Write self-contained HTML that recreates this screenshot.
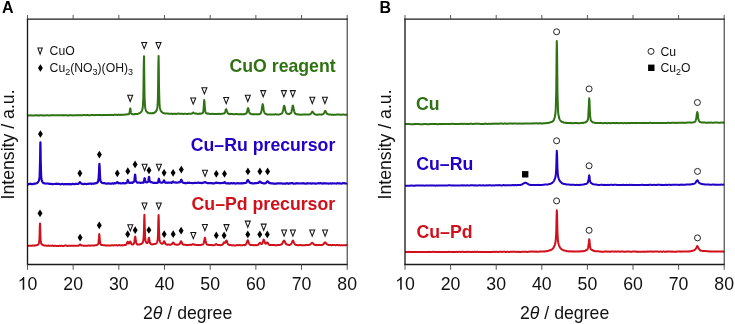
<!DOCTYPE html>
<html><head><meta charset="utf-8">
<style>
html,body{margin:0;padding:0;background:#fff;}
body{width:735px;height:324px;overflow:hidden;}
svg{display:block;will-change:transform;}
text{font-family:"Liberation Sans",sans-serif;}
.tl{font-size:17.7px;text-anchor:middle;fill:#111;}
.tick{stroke:#555;stroke-width:1;}
.tri{fill:#fff;stroke:#151515;stroke-width:1.05;stroke-linejoin:miter;}
.dia{fill:#000;}
.circ{fill:#fff;stroke:#222;stroke-width:1.0;}
.tr{fill:none;stroke-width:2.0;stroke-linejoin:round;}
.lab{font-weight:bold;font-size:17.7px;}
.leg{font-size:12.2px;fill:#111;}
</style></head>
<body>
<svg width="735" height="324" viewBox="0 0 735 324">
<rect width="735" height="324" fill="#fff"/>
<text x="2.0" y="12.6" style="font-weight:bold;font-size:16px;">A</text>
<text x="379.4" y="12.6" style="font-weight:bold;font-size:16px;">B</text>
<path d="M27.5,115.3 L27.7,115.3 L28.0,115.4 L28.2,115.4 L28.4,115.5 L28.6,115.5 L28.9,115.5 L29.1,115.5 L29.3,115.5 L29.6,115.5 L29.8,115.4 L30.0,115.4 L30.2,115.3 L30.5,115.3 L30.7,115.3 L30.9,115.3 L31.2,115.4 L31.4,115.4 L31.6,115.4 L31.8,115.4 L32.1,115.4 L32.3,115.4 L32.5,115.4 L32.8,115.4 L33.0,115.4 L33.2,115.4 L33.4,115.4 L33.7,115.4 L33.9,115.5 L34.1,115.5 L34.4,115.5 L34.6,115.5 L34.8,115.4 L35.0,115.3 L35.3,115.3 L35.5,115.2 L35.7,115.2 L35.9,115.2 L36.2,115.2 L36.4,115.2 L36.6,115.2 L36.9,115.3 L37.1,115.4 L37.3,115.4 L37.5,115.5 L37.8,115.4 L38.0,115.4 L38.2,115.4 L38.5,115.3 L38.7,115.4 L38.9,115.4 L39.1,115.4 L39.4,115.4 L39.6,115.4 L39.8,115.4 L40.1,115.3 L40.3,115.2 L40.5,115.2 L40.7,115.2 L41.0,115.3 L41.2,115.3 L41.4,115.3 L41.7,115.4 L41.9,115.4 L42.1,115.4 L42.3,115.4 L42.6,115.4 L42.8,115.4 L43.0,115.3 L43.3,115.3 L43.5,115.3 L43.7,115.3 L43.9,115.4 L44.2,115.4 L44.4,115.5 L44.6,115.5 L44.9,115.5 L45.1,115.5 L45.3,115.5 L45.5,115.5 L45.8,115.4 L46.0,115.3 L46.2,115.3 L46.5,115.2 L46.7,115.2 L46.9,115.2 L47.1,115.2 L47.4,115.2 L47.6,115.2 L47.8,115.2 L48.1,115.3 L48.3,115.3 L48.5,115.4 L48.7,115.4 L49.0,115.4 L49.2,115.4 L49.4,115.5 L49.7,115.5 L49.9,115.4 L50.1,115.4 L50.3,115.3 L50.6,115.3 L50.8,115.3 L51.0,115.3 L51.2,115.2 L51.5,115.2 L51.7,115.2 L51.9,115.3 L52.2,115.3 L52.4,115.3 L52.6,115.3 L52.8,115.2 L53.1,115.2 L53.3,115.2 L53.5,115.2 L53.8,115.2 L54.0,115.2 L54.2,115.2 L54.4,115.2 L54.7,115.2 L54.9,115.2 L55.1,115.3 L55.4,115.3 L55.6,115.3 L55.8,115.3 L56.0,115.3 L56.3,115.3 L56.5,115.3 L56.7,115.3 L57.0,115.3 L57.2,115.2 L57.4,115.2 L57.6,115.2 L57.9,115.2 L58.1,115.2 L58.3,115.2 L58.6,115.2 L58.8,115.2 L59.0,115.2 L59.2,115.2 L59.5,115.2 L59.7,115.2 L59.9,115.2 L60.2,115.3 L60.4,115.3 L60.6,115.3 L60.8,115.3 L61.1,115.2 L61.3,115.2 L61.5,115.2 L61.8,115.2 L62.0,115.2 L62.2,115.1 L62.4,115.1 L62.7,115.2 L62.9,115.2 L63.1,115.3 L63.4,115.4 L63.6,115.4 L63.8,115.4 L64.0,115.3 L64.3,115.3 L64.5,115.3 L64.7,115.3 L65.0,115.3 L65.2,115.3 L65.4,115.3 L65.6,115.3 L65.9,115.3 L66.1,115.2 L66.3,115.2 L66.5,115.2 L66.8,115.2 L67.0,115.3 L67.2,115.4 L67.5,115.4 L67.7,115.4 L67.9,115.4 L68.1,115.4 L68.4,115.4 L68.6,115.4 L68.8,115.3 L69.1,115.2 L69.3,115.2 L69.5,115.1 L69.7,115.1 L70.0,115.2 L70.2,115.2 L70.4,115.2 L70.7,115.2 L70.9,115.2 L71.1,115.3 L71.3,115.3 L71.6,115.3 L71.8,115.3 L72.0,115.3 L72.3,115.3 L72.5,115.3 L72.7,115.3 L72.9,115.4 L73.2,115.4 L73.4,115.4 L73.6,115.4 L73.9,115.3 L74.1,115.3 L74.3,115.2 L74.5,115.2 L74.8,115.2 L75.0,115.3 L75.2,115.3 L75.5,115.3 L75.7,115.3 L75.9,115.3 L76.1,115.3 L76.4,115.3 L76.6,115.3 L76.8,115.2 L77.1,115.2 L77.3,115.2 L77.5,115.1 L77.7,115.2 L78.0,115.2 L78.2,115.2 L78.4,115.2 L78.7,115.3 L78.9,115.3 L79.1,115.3 L79.3,115.3 L79.6,115.3 L79.8,115.3 L80.0,115.3 L80.3,115.3 L80.5,115.3 L80.7,115.3 L80.9,115.3 L81.2,115.2 L81.4,115.2 L81.6,115.2 L81.8,115.2 L82.1,115.2 L82.3,115.2 L82.5,115.2 L82.8,115.2 L83.0,115.1 L83.2,115.1 L83.4,115.0 L83.7,115.0 L83.9,115.0 L84.1,115.1 L84.4,115.1 L84.6,115.1 L84.8,115.1 L85.0,115.2 L85.3,115.2 L85.5,115.3 L85.7,115.2 L86.0,115.2 L86.2,115.2 L86.4,115.1 L86.6,115.1 L86.9,115.1 L87.1,115.1 L87.3,115.1 L87.6,115.0 L87.8,115.1 L88.0,115.1 L88.2,115.1 L88.5,115.2 L88.7,115.2 L88.9,115.2 L89.2,115.2 L89.4,115.2 L89.6,115.2 L89.8,115.2 L90.1,115.2 L90.3,115.2 L90.5,115.2 L90.8,115.2 L91.0,115.1 L91.2,115.1 L91.4,115.1 L91.7,115.1 L91.9,115.1 L92.1,115.1 L92.4,115.1 L92.6,115.1 L92.8,115.1 L93.0,115.1 L93.3,115.1 L93.5,115.1 L93.7,115.1 L94.0,115.1 L94.2,115.2 L94.4,115.2 L94.6,115.2 L94.9,115.2 L95.1,115.1 L95.3,115.1 L95.6,115.1 L95.8,115.1 L96.0,115.1 L96.2,115.1 L96.5,115.0 L96.7,115.0 L96.9,115.0 L97.1,115.1 L97.4,115.1 L97.6,115.0 L97.8,115.0 L98.1,115.0 L98.3,114.9 L98.5,114.9 L98.7,114.9 L99.0,114.9 L99.2,114.9 L99.4,114.9 L99.7,114.9 L99.9,115.0 L100.1,115.0 L100.3,115.1 L100.6,115.1 L100.8,115.1 L101.0,115.2 L101.3,115.2 L101.5,115.2 L101.7,115.2 L101.9,115.1 L102.2,115.1 L102.4,115.1 L102.6,115.0 L102.9,115.0 L103.1,115.0 L103.3,115.0 L103.5,115.0 L103.8,114.9 L104.0,114.9 L104.2,114.9 L104.5,114.9 L104.7,114.9 L104.9,114.9 L105.1,114.9 L105.4,115.0 L105.6,115.0 L105.8,115.0 L106.1,115.1 L106.3,115.1 L106.5,115.1 L106.7,115.1 L107.0,115.1 L107.2,115.1 L107.4,115.1 L107.7,115.0 L107.9,115.0 L108.1,115.0 L108.3,115.0 L108.6,115.0 L108.8,115.0 L109.0,115.0 L109.3,115.0 L109.5,115.1 L109.7,115.0 L109.9,114.9 L110.2,114.9 L110.4,114.8 L110.6,114.8 L110.9,114.8 L111.1,114.9 L111.3,114.9 L111.5,114.9 L111.8,114.9 L112.0,115.0 L112.2,115.0 L112.4,115.0 L112.7,115.0 L112.9,115.0 L113.1,114.9 L113.4,114.9 L113.6,114.9 L113.8,114.9 L114.0,114.9 L114.3,114.8 L114.5,114.8 L114.7,114.8 L115.0,114.8 L115.2,114.8 L115.4,114.8 L115.6,114.8 L115.9,114.8 L116.1,114.8 L116.3,114.8 L116.6,114.8 L116.8,114.9 L117.0,114.9 L117.2,114.9 L117.5,115.0 L117.7,114.9 L117.9,114.8 L118.2,114.7 L118.4,114.6 L118.6,114.6 L118.8,114.7 L119.1,114.7 L119.3,114.8 L119.5,114.9 L119.8,114.9 L120.0,114.9 L120.2,114.9 L120.4,114.8 L120.7,114.8 L120.9,114.8 L121.1,114.9 L121.4,114.9 L121.6,114.8 L121.8,114.8 L122.0,114.8 L122.3,114.8 L122.5,114.8 L122.7,114.8 L123.0,114.8 L123.2,114.8 L123.4,114.8 L123.6,114.8 L123.9,114.7 L124.1,114.7 L124.3,114.7 L124.6,114.6 L124.8,114.6 L125.0,114.6 L125.2,114.6 L125.5,114.6 L125.7,114.6 L125.9,114.6 L126.2,114.5 L126.4,114.5 L126.6,114.5 L126.8,114.4 L127.1,114.4 L127.3,114.3 L127.5,114.3 L127.7,114.3 L128.0,114.3 L128.2,114.3 L128.4,114.3 L128.7,114.2 L128.9,114.1 L129.1,113.8 L129.3,113.2 L129.6,112.3 L129.8,110.9 L130.0,109.2 L130.3,108.4 L130.5,109.1 L130.7,110.8 L130.9,112.2 L131.2,113.1 L131.4,113.6 L131.6,113.9 L131.9,114.0 L132.1,114.1 L132.3,114.1 L132.5,114.2 L132.8,114.2 L133.0,114.2 L133.2,114.2 L133.5,114.2 L133.7,114.2 L133.9,114.2 L134.1,114.2 L134.4,114.2 L134.6,114.1 L134.8,114.1 L135.1,114.2 L135.3,114.1 L135.5,114.1 L135.7,114.1 L136.0,114.1 L136.2,114.1 L136.4,114.1 L136.7,114.1 L136.9,114.0 L137.1,114.0 L137.3,114.0 L137.6,113.9 L137.8,113.8 L138.0,113.8 L138.3,113.7 L138.5,113.6 L138.7,113.5 L138.9,113.4 L139.2,113.3 L139.4,113.2 L139.6,113.1 L139.9,113.0 L140.1,112.9 L140.3,112.7 L140.5,112.6 L140.8,112.3 L141.0,112.1 L141.2,111.8 L141.5,111.5 L141.7,111.1 L141.9,110.6 L142.1,110.0 L142.4,109.3 L142.6,108.3 L142.8,106.7 L143.0,104.0 L143.3,98.3 L143.5,86.4 L143.7,68.1 L144.0,56.2 L144.2,68.1 L144.4,86.4 L144.6,98.2 L144.9,104.0 L145.1,106.7 L145.3,108.2 L145.6,109.3 L145.8,110.1 L146.0,110.7 L146.2,111.1 L146.5,111.5 L146.7,111.8 L146.9,112.0 L147.2,112.2 L147.4,112.4 L147.6,112.5 L147.8,112.7 L148.1,112.9 L148.3,113.0 L148.5,113.1 L148.8,113.2 L149.0,113.2 L149.2,113.3 L149.4,113.3 L149.7,113.3 L149.9,113.3 L150.1,113.3 L150.4,113.2 L150.6,113.2 L150.8,113.2 L151.0,113.2 L151.3,113.2 L151.5,113.2 L151.7,113.2 L152.0,113.2 L152.2,113.2 L152.4,113.1 L152.6,113.1 L152.9,113.2 L153.1,113.2 L153.3,113.2 L153.6,113.2 L153.8,113.0 L154.0,112.9 L154.2,112.8 L154.5,112.6 L154.7,112.5 L154.9,112.4 L155.2,112.2 L155.4,112.0 L155.6,111.7 L155.8,111.5 L156.1,111.2 L156.3,110.9 L156.5,110.4 L156.8,109.8 L157.0,109.0 L157.2,107.9 L157.4,106.4 L157.7,103.6 L157.9,97.9 L158.1,86.1 L158.3,67.8 L158.6,55.9 L158.8,67.8 L159.0,86.0 L159.3,97.8 L159.5,103.6 L159.7,106.3 L159.9,107.9 L160.2,109.0 L160.4,109.8 L160.6,110.4 L160.9,110.8 L161.1,111.2 L161.3,111.5 L161.5,111.8 L161.8,112.0 L162.0,112.2 L162.2,112.4 L162.5,112.5 L162.7,112.7 L162.9,112.8 L163.1,113.0 L163.4,113.1 L163.6,113.2 L163.8,113.2 L164.1,113.3 L164.3,113.3 L164.5,113.3 L164.7,113.4 L165.0,113.4 L165.2,113.4 L165.4,113.4 L165.7,113.5 L165.9,113.5 L166.1,113.5 L166.3,113.6 L166.6,113.6 L166.8,113.6 L167.0,113.5 L167.3,113.5 L167.5,113.5 L167.7,113.5 L167.9,113.6 L168.2,113.6 L168.4,113.7 L168.6,113.7 L168.9,113.7 L169.1,113.7 L169.3,113.7 L169.5,113.7 L169.8,113.7 L170.0,113.7 L170.2,113.7 L170.5,113.7 L170.7,113.7 L170.9,113.7 L171.1,113.7 L171.4,113.6 L171.6,113.7 L171.8,113.7 L172.1,113.8 L172.3,113.9 L172.5,113.9 L172.7,113.9 L173.0,113.9 L173.2,113.9 L173.4,113.8 L173.6,113.8 L173.9,113.8 L174.1,113.7 L174.3,113.7 L174.6,113.7 L174.8,113.7 L175.0,113.8 L175.2,113.8 L175.5,113.8 L175.7,113.9 L175.9,113.9 L176.2,113.9 L176.4,113.9 L176.6,113.9 L176.8,113.8 L177.1,113.8 L177.3,113.7 L177.5,113.6 L177.8,113.6 L178.0,113.6 L178.2,113.6 L178.4,113.6 L178.7,113.6 L178.9,113.7 L179.1,113.7 L179.4,113.7 L179.6,113.7 L179.8,113.7 L180.0,113.8 L180.3,113.8 L180.5,113.9 L180.7,113.8 L181.0,113.8 L181.2,113.7 L181.4,113.7 L181.6,113.7 L181.9,113.8 L182.1,113.8 L182.3,113.8 L182.6,113.9 L182.8,113.9 L183.0,113.9 L183.2,113.9 L183.5,113.9 L183.7,113.9 L183.9,113.8 L184.2,113.8 L184.4,113.8 L184.6,113.8 L184.8,113.8 L185.1,113.7 L185.3,113.7 L185.5,113.7 L185.8,113.8 L186.0,113.8 L186.2,113.9 L186.4,113.9 L186.7,113.9 L186.9,113.9 L187.1,113.9 L187.3,113.9 L187.6,113.9 L187.8,113.9 L188.0,113.8 L188.3,113.8 L188.5,113.8 L188.7,113.7 L188.9,113.7 L189.2,113.7 L189.4,113.7 L189.6,113.7 L189.9,113.7 L190.1,113.7 L190.3,113.8 L190.5,113.8 L190.8,113.7 L191.0,113.7 L191.2,113.7 L191.5,113.6 L191.7,113.6 L191.9,113.5 L192.1,113.4 L192.4,113.3 L192.6,113.1 L192.8,112.8 L193.1,112.6 L193.3,112.5 L193.5,112.6 L193.7,112.8 L194.0,113.0 L194.2,113.3 L194.4,113.4 L194.7,113.5 L194.9,113.6 L195.1,113.6 L195.3,113.5 L195.6,113.5 L195.8,113.6 L196.0,113.6 L196.3,113.6 L196.5,113.6 L196.7,113.7 L196.9,113.8 L197.2,113.8 L197.4,113.9 L197.6,113.9 L197.9,113.9 L198.1,113.9 L198.3,113.9 L198.5,113.8 L198.8,113.8 L199.0,113.7 L199.2,113.7 L199.5,113.6 L199.7,113.6 L199.9,113.7 L200.1,113.7 L200.4,113.7 L200.6,113.7 L200.8,113.7 L201.1,113.6 L201.3,113.5 L201.5,113.4 L201.7,113.4 L202.0,113.4 L202.2,113.3 L202.4,113.2 L202.6,113.0 L202.9,112.7 L203.1,112.0 L203.3,110.9 L203.6,108.8 L203.8,105.6 L204.0,102.0 L204.2,100.1 L204.5,101.9 L204.7,105.5 L204.9,108.7 L205.2,110.7 L205.4,111.8 L205.6,112.4 L205.8,112.8 L206.1,113.0 L206.3,113.1 L206.5,113.2 L206.8,113.3 L207.0,113.5 L207.2,113.6 L207.4,113.7 L207.7,113.7 L207.9,113.7 L208.1,113.6 L208.4,113.6 L208.6,113.6 L208.8,113.7 L209.0,113.7 L209.3,113.8 L209.5,113.9 L209.7,113.9 L210.0,113.9 L210.2,114.0 L210.4,114.0 L210.6,114.0 L210.9,113.9 L211.1,113.9 L211.3,113.9 L211.6,113.9 L211.8,113.8 L212.0,113.8 L212.2,113.8 L212.5,113.7 L212.7,113.8 L212.9,113.8 L213.2,113.9 L213.4,114.0 L213.6,114.0 L213.8,114.0 L214.1,114.0 L214.3,114.0 L214.5,114.1 L214.8,114.0 L215.0,114.0 L215.2,114.0 L215.4,114.0 L215.7,114.0 L215.9,113.9 L216.1,113.9 L216.4,113.9 L216.6,113.9 L216.8,113.9 L217.0,113.9 L217.3,113.9 L217.5,113.9 L217.7,113.9 L217.9,113.9 L218.2,113.9 L218.4,113.9 L218.6,113.9 L218.9,113.8 L219.1,113.8 L219.3,113.8 L219.5,113.8 L219.8,113.9 L220.0,113.9 L220.2,113.9 L220.5,114.0 L220.7,113.9 L220.9,113.9 L221.1,113.9 L221.4,113.9 L221.6,113.8 L221.8,113.8 L222.1,113.8 L222.3,113.7 L222.5,113.7 L222.7,113.7 L223.0,113.6 L223.2,113.6 L223.4,113.6 L223.7,113.5 L223.9,113.5 L224.1,113.4 L224.3,113.3 L224.6,113.1 L224.8,112.7 L225.0,112.2 L225.3,111.6 L225.5,110.8 L225.7,110.0 L225.9,109.4 L226.2,109.1 L226.4,109.4 L226.6,110.1 L226.9,110.8 L227.1,111.6 L227.3,112.2 L227.5,112.7 L227.8,113.1 L228.0,113.4 L228.2,113.6 L228.5,113.7 L228.7,113.8 L228.9,113.9 L229.1,114.0 L229.4,114.0 L229.6,114.0 L229.8,114.0 L230.1,113.9 L230.3,113.9 L230.5,113.8 L230.7,113.8 L231.0,113.9 L231.2,113.9 L231.4,113.9 L231.7,113.9 L231.9,114.0 L232.1,114.0 L232.3,114.0 L232.6,114.0 L232.8,114.1 L233.0,114.1 L233.2,114.2 L233.5,114.3 L233.7,114.3 L233.9,114.2 L234.2,114.2 L234.4,114.2 L234.6,114.2 L234.8,114.2 L235.1,114.1 L235.3,114.1 L235.5,114.1 L235.8,114.1 L236.0,114.1 L236.2,114.1 L236.4,114.0 L236.7,114.1 L236.9,114.1 L237.1,114.2 L237.4,114.2 L237.6,114.2 L237.8,114.2 L238.0,114.3 L238.3,114.3 L238.5,114.3 L238.7,114.3 L239.0,114.3 L239.2,114.3 L239.4,114.3 L239.6,114.3 L239.9,114.3 L240.1,114.2 L240.3,114.2 L240.6,114.1 L240.8,114.2 L241.0,114.2 L241.2,114.3 L241.5,114.3 L241.7,114.3 L241.9,114.3 L242.2,114.3 L242.4,114.2 L242.6,114.2 L242.8,114.2 L243.1,114.2 L243.3,114.1 L243.5,114.1 L243.8,114.2 L244.0,114.2 L244.2,114.2 L244.4,114.2 L244.7,114.2 L244.9,114.1 L245.1,114.0 L245.4,113.8 L245.6,113.7 L245.8,113.7 L246.0,113.6 L246.3,113.4 L246.5,113.1 L246.7,112.7 L247.0,112.0 L247.2,111.2 L247.4,110.2 L247.6,109.2 L247.9,108.3 L248.1,108.0 L248.3,108.4 L248.5,109.2 L248.8,110.3 L249.0,111.3 L249.2,112.1 L249.5,112.8 L249.7,113.2 L249.9,113.4 L250.1,113.6 L250.4,113.7 L250.6,113.8 L250.8,113.9 L251.1,114.0 L251.3,114.1 L251.5,114.2 L251.7,114.2 L252.0,114.2 L252.2,114.2 L252.4,114.2 L252.7,114.2 L252.9,114.3 L253.1,114.3 L253.3,114.3 L253.6,114.4 L253.8,114.3 L254.0,114.3 L254.3,114.3 L254.5,114.2 L254.7,114.2 L254.9,114.2 L255.2,114.2 L255.4,114.2 L255.6,114.2 L255.9,114.2 L256.1,114.2 L256.3,114.2 L256.5,114.2 L256.8,114.2 L257.0,114.3 L257.2,114.3 L257.5,114.4 L257.7,114.3 L257.9,114.3 L258.1,114.2 L258.4,114.2 L258.6,114.2 L258.8,114.2 L259.1,114.2 L259.3,114.1 L259.5,114.1 L259.7,114.0 L260.0,113.9 L260.2,113.8 L260.4,113.6 L260.7,113.4 L260.9,112.9 L261.1,112.4 L261.3,111.6 L261.6,110.5 L261.8,109.2 L262.0,107.7 L262.3,106.1 L262.5,104.7 L262.7,104.1 L262.9,104.6 L263.2,106.0 L263.4,107.6 L263.6,109.2 L263.8,110.5 L264.1,111.5 L264.3,112.3 L264.5,112.8 L264.8,113.1 L265.0,113.4 L265.2,113.6 L265.4,113.7 L265.7,113.8 L265.9,114.0 L266.1,114.1 L266.4,114.2 L266.6,114.3 L266.8,114.3 L267.0,114.4 L267.3,114.4 L267.5,114.4 L267.7,114.4 L268.0,114.4 L268.2,114.5 L268.4,114.5 L268.6,114.5 L268.9,114.4 L269.1,114.4 L269.3,114.4 L269.6,114.4 L269.8,114.4 L270.0,114.4 L270.2,114.5 L270.5,114.5 L270.7,114.5 L270.9,114.5 L271.2,114.5 L271.4,114.6 L271.6,114.6 L271.8,114.5 L272.1,114.5 L272.3,114.5 L272.5,114.4 L272.8,114.5 L273.0,114.5 L273.2,114.5 L273.4,114.5 L273.7,114.5 L273.9,114.5 L274.1,114.4 L274.4,114.4 L274.6,114.4 L274.8,114.4 L275.0,114.4 L275.3,114.3 L275.5,114.3 L275.7,114.3 L276.0,114.4 L276.2,114.4 L276.4,114.4 L276.6,114.4 L276.9,114.5 L277.1,114.5 L277.3,114.5 L277.6,114.6 L277.8,114.5 L278.0,114.5 L278.2,114.4 L278.5,114.4 L278.7,114.4 L278.9,114.4 L279.1,114.4 L279.4,114.4 L279.6,114.4 L279.8,114.3 L280.1,114.3 L280.3,114.2 L280.5,114.1 L280.7,114.0 L281.0,113.9 L281.2,113.8 L281.4,113.6 L281.7,113.5 L281.9,113.3 L282.1,113.0 L282.3,112.6 L282.6,112.0 L282.8,111.3 L283.0,110.4 L283.3,109.3 L283.5,108.2 L283.7,107.1 L283.9,106.2 L284.2,105.8 L284.4,106.0 L284.6,106.8 L284.9,108.0 L285.1,109.1 L285.3,110.2 L285.5,111.2 L285.8,111.9 L286.0,112.4 L286.2,112.8 L286.5,113.1 L286.7,113.3 L286.9,113.5 L287.1,113.6 L287.4,113.7 L287.6,113.8 L287.8,113.9 L288.1,114.0 L288.3,114.1 L288.5,114.1 L288.7,114.1 L289.0,114.0 L289.2,113.9 L289.4,113.8 L289.7,113.7 L289.9,113.7 L290.1,113.6 L290.3,113.5 L290.6,113.4 L290.8,113.1 L291.0,112.8 L291.3,112.4 L291.5,111.7 L291.7,110.7 L291.9,109.6 L292.2,108.2 L292.4,106.9 L292.6,105.9 L292.9,105.5 L293.1,105.9 L293.3,106.8 L293.5,108.1 L293.8,109.4 L294.0,110.5 L294.2,111.5 L294.4,112.2 L294.7,112.8 L294.9,113.2 L295.1,113.4 L295.4,113.7 L295.6,113.8 L295.8,114.0 L296.0,114.1 L296.3,114.2 L296.5,114.3 L296.7,114.3 L297.0,114.3 L297.2,114.3 L297.4,114.3 L297.6,114.3 L297.9,114.4 L298.1,114.5 L298.3,114.6 L298.6,114.6 L298.8,114.6 L299.0,114.6 L299.2,114.5 L299.5,114.5 L299.7,114.5 L299.9,114.6 L300.2,114.7 L300.4,114.7 L300.6,114.7 L300.8,114.7 L301.1,114.7 L301.3,114.7 L301.5,114.7 L301.8,114.7 L302.0,114.6 L302.2,114.6 L302.4,114.5 L302.7,114.5 L302.9,114.5 L303.1,114.5 L303.4,114.5 L303.6,114.5 L303.8,114.6 L304.0,114.6 L304.3,114.6 L304.5,114.6 L304.7,114.6 L305.0,114.6 L305.2,114.5 L305.4,114.5 L305.6,114.5 L305.9,114.5 L306.1,114.6 L306.3,114.6 L306.6,114.6 L306.8,114.6 L307.0,114.5 L307.2,114.5 L307.5,114.4 L307.7,114.4 L307.9,114.4 L308.2,114.4 L308.4,114.4 L308.6,114.4 L308.8,114.5 L309.1,114.5 L309.3,114.6 L309.5,114.6 L309.7,114.5 L310.0,114.4 L310.2,114.2 L310.4,114.1 L310.7,113.9 L310.9,113.7 L311.1,113.5 L311.3,113.2 L311.6,112.8 L311.8,112.4 L312.0,112.0 L312.3,111.7 L312.5,111.6 L312.7,111.7 L312.9,112.0 L313.2,112.4 L313.4,112.7 L313.6,113.1 L313.9,113.4 L314.1,113.6 L314.3,113.8 L314.5,114.0 L314.8,114.2 L315.0,114.3 L315.2,114.4 L315.5,114.6 L315.7,114.6 L315.9,114.6 L316.1,114.7 L316.4,114.7 L316.6,114.7 L316.8,114.7 L317.1,114.7 L317.3,114.7 L317.5,114.7 L317.7,114.7 L318.0,114.6 L318.2,114.5 L318.4,114.5 L318.7,114.4 L318.9,114.5 L319.1,114.5 L319.3,114.5 L319.6,114.5 L319.8,114.5 L320.0,114.5 L320.3,114.6 L320.5,114.6 L320.7,114.6 L320.9,114.6 L321.2,114.6 L321.4,114.7 L321.6,114.6 L321.9,114.6 L322.1,114.5 L322.3,114.4 L322.5,114.3 L322.8,114.3 L323.0,114.2 L323.2,114.0 L323.5,113.9 L323.7,113.6 L323.9,113.3 L324.1,112.9 L324.4,112.4 L324.6,111.9 L324.8,111.5 L325.0,111.1 L325.3,110.9 L325.5,111.0 L325.7,111.4 L326.0,111.9 L326.2,112.4 L326.4,112.8 L326.6,113.2 L326.9,113.5 L327.1,113.8 L327.3,113.9 L327.6,114.1 L327.8,114.2 L328.0,114.2 L328.2,114.3 L328.5,114.3 L328.7,114.4 L328.9,114.4 L329.2,114.4 L329.4,114.4 L329.6,114.4 L329.8,114.4 L330.1,114.5 L330.3,114.5 L330.5,114.5 L330.8,114.6 L331.0,114.7 L331.2,114.7 L331.4,114.8 L331.7,114.8 L331.9,114.7 L332.1,114.7 L332.4,114.7 L332.6,114.6 L332.8,114.7 L333.0,114.7 L333.3,114.7 L333.5,114.7 L333.7,114.7 L334.0,114.7 L334.2,114.7 L334.4,114.7 L334.6,114.7 L334.9,114.8 L335.1,114.8 L335.3,114.8 L335.6,114.8 L335.8,114.8 L336.0,114.7 L336.2,114.7 L336.5,114.6 L336.7,114.6 L336.9,114.6 L337.2,114.6 L337.4,114.6 L337.6,114.6 L337.8,114.6 L338.1,114.6 L338.3,114.6 L338.5,114.6 L338.8,114.6 L339.0,114.6 L339.2,114.6 L339.4,114.6 L339.7,114.6 L339.9,114.7 L340.1,114.7 L340.3,114.8 L340.6,114.8 L340.8,114.8 L341.0,114.8 L341.3,114.8 L341.5,114.8 L341.7,114.8 L341.9,114.7 L342.2,114.7 L342.4,114.6 L342.6,114.6 L342.9,114.6 L343.1,114.6 L343.3,114.6 L343.5,114.6 L343.8,114.6 L344.0,114.7 L344.2,114.7 L344.5,114.7 L344.7,114.7 L344.9,114.7 L345.1,114.7 L345.4,114.7 L345.6,114.7 L345.8,114.7 L346.1,114.7 L346.3,114.7 L346.5,114.7 L346.7,114.7 L347.0,114.7 L347.2,114.6" class="tr" stroke="#2f7212"/>
<path d="M27.5,184.4 L27.7,184.4 L28.0,184.4 L28.2,184.4 L28.4,184.4 L28.6,184.3 L28.9,184.1 L29.1,184.0 L29.3,183.9 L29.6,183.8 L29.8,183.8 L30.0,183.8 L30.2,183.8 L30.5,183.7 L30.7,183.8 L30.9,183.9 L31.2,184.0 L31.4,184.1 L31.6,184.2 L31.8,184.1 L32.1,184.1 L32.3,184.1 L32.5,184.1 L32.8,184.0 L33.0,184.0 L33.2,184.0 L33.4,184.0 L33.7,183.9 L33.9,183.8 L34.1,183.7 L34.4,183.6 L34.6,183.6 L34.8,183.6 L35.0,183.6 L35.3,183.6 L35.5,183.6 L35.7,183.5 L35.9,183.5 L36.2,183.4 L36.4,183.3 L36.6,183.2 L36.9,183.1 L37.1,183.0 L37.3,182.8 L37.5,182.7 L37.8,182.4 L38.0,182.1 L38.2,181.7 L38.5,181.3 L38.7,180.9 L38.9,180.4 L39.1,179.7 L39.4,178.6 L39.6,176.4 L39.8,171.2 L40.1,160.2 L40.3,145.4 L40.4,142.4 L40.5,145.6 L40.7,160.5 L41.0,171.5 L41.2,176.6 L41.4,178.8 L41.7,180.0 L41.9,180.7 L42.1,181.3 L42.3,181.8 L42.6,182.2 L42.8,182.5 L43.0,182.7 L43.3,182.9 L43.5,183.1 L43.7,183.1 L43.9,183.2 L44.2,183.3 L44.4,183.3 L44.6,183.3 L44.9,183.4 L45.1,183.4 L45.3,183.5 L45.5,183.5 L45.8,183.5 L46.0,183.5 L46.2,183.5 L46.5,183.6 L46.7,183.5 L46.9,183.5 L47.1,183.5 L47.4,183.5 L47.6,183.5 L47.8,183.5 L48.1,183.5 L48.3,183.6 L48.5,183.6 L48.7,183.6 L49.0,183.7 L49.2,183.8 L49.4,183.9 L49.7,183.9 L49.9,183.9 L50.1,183.9 L50.3,183.8 L50.6,183.8 L50.8,183.9 L51.0,183.9 L51.2,183.9 L51.5,183.9 L51.7,184.0 L51.9,184.0 L52.2,184.1 L52.4,184.2 L52.6,184.2 L52.8,184.2 L53.1,184.1 L53.3,184.1 L53.5,184.0 L53.8,184.0 L54.0,184.0 L54.2,184.0 L54.4,184.0 L54.7,184.0 L54.9,184.0 L55.1,183.9 L55.4,183.9 L55.6,183.8 L55.8,183.8 L56.0,183.8 L56.3,183.7 L56.5,183.7 L56.7,183.8 L57.0,183.8 L57.2,183.9 L57.4,183.9 L57.6,183.9 L57.9,183.9 L58.1,183.8 L58.3,183.8 L58.6,183.8 L58.8,183.9 L59.0,183.9 L59.2,184.0 L59.5,184.0 L59.7,184.1 L59.9,184.2 L60.2,184.2 L60.4,184.3 L60.6,184.3 L60.8,184.3 L61.1,184.2 L61.3,184.2 L61.5,184.1 L61.8,184.1 L62.0,184.0 L62.2,183.9 L62.4,183.8 L62.7,183.9 L62.9,184.0 L63.1,184.1 L63.4,184.2 L63.6,184.3 L63.8,184.3 L64.0,184.2 L64.3,184.2 L64.5,184.2 L64.7,184.2 L65.0,184.2 L65.2,184.2 L65.4,184.2 L65.6,184.2 L65.9,184.2 L66.1,184.2 L66.3,184.2 L66.5,184.3 L66.8,184.2 L67.0,184.2 L67.2,184.2 L67.5,184.2 L67.7,184.2 L67.9,184.2 L68.1,184.2 L68.4,184.2 L68.6,184.2 L68.8,184.1 L69.1,184.0 L69.3,184.0 L69.5,183.9 L69.7,184.0 L70.0,184.1 L70.2,184.2 L70.4,184.3 L70.7,184.3 L70.9,184.3 L71.1,184.3 L71.3,184.3 L71.6,184.2 L71.8,184.1 L72.0,184.0 L72.3,183.9 L72.5,183.8 L72.7,183.8 L72.9,183.9 L73.2,184.0 L73.4,184.1 L73.6,184.1 L73.9,184.1 L74.1,184.1 L74.3,184.1 L74.5,184.1 L74.8,184.0 L75.0,184.0 L75.2,183.9 L75.5,183.9 L75.7,183.9 L75.9,183.9 L76.1,183.9 L76.4,183.9 L76.6,183.9 L76.8,183.9 L77.1,183.9 L77.3,183.8 L77.5,183.8 L77.7,183.8 L78.0,183.9 L78.2,183.9 L78.4,183.8 L78.7,183.7 L78.9,183.4 L79.1,183.1 L79.3,182.7 L79.6,182.3 L79.8,182.2 L79.9,182.1 L80.0,182.2 L80.3,182.5 L80.5,182.9 L80.7,183.1 L80.9,183.3 L81.2,183.5 L81.4,183.5 L81.6,183.6 L81.8,183.7 L82.1,183.9 L82.3,184.0 L82.5,184.0 L82.8,184.0 L83.0,184.1 L83.2,184.1 L83.4,184.1 L83.7,184.0 L83.9,184.0 L84.1,183.9 L84.4,183.8 L84.6,183.8 L84.8,183.8 L85.0,183.8 L85.3,183.9 L85.5,183.9 L85.7,183.9 L86.0,184.0 L86.2,184.0 L86.4,184.1 L86.6,184.1 L86.9,184.0 L87.1,184.0 L87.3,184.0 L87.6,183.9 L87.8,183.9 L88.0,183.9 L88.2,183.8 L88.5,183.8 L88.7,183.7 L88.9,183.7 L89.2,183.6 L89.4,183.6 L89.6,183.6 L89.8,183.6 L90.1,183.6 L90.3,183.6 L90.5,183.6 L90.8,183.7 L91.0,183.7 L91.2,183.8 L91.4,183.8 L91.7,183.8 L91.9,183.7 L92.1,183.6 L92.4,183.5 L92.6,183.5 L92.8,183.6 L93.0,183.6 L93.3,183.7 L93.5,183.8 L93.7,183.7 L94.0,183.6 L94.2,183.5 L94.4,183.4 L94.6,183.3 L94.9,183.4 L95.1,183.5 L95.3,183.5 L95.6,183.5 L95.8,183.4 L96.0,183.2 L96.2,183.0 L96.5,182.9 L96.7,182.8 L96.9,182.8 L97.1,182.7 L97.4,182.6 L97.6,182.4 L97.8,182.0 L98.1,181.6 L98.3,180.8 L98.5,179.5 L98.7,176.9 L99.0,172.3 L99.2,166.5 L99.4,163.8 L99.4,163.9 L99.7,168.0 L99.9,173.8 L100.1,177.7 L100.3,179.8 L100.6,180.9 L100.8,181.5 L101.0,181.9 L101.3,182.2 L101.5,182.5 L101.7,182.6 L101.9,182.8 L102.2,182.9 L102.4,183.0 L102.6,183.0 L102.9,183.1 L103.1,183.1 L103.3,183.1 L103.5,183.1 L103.8,183.1 L104.0,183.1 L104.2,183.2 L104.5,183.2 L104.7,183.2 L104.9,183.3 L105.1,183.3 L105.4,183.4 L105.6,183.5 L105.8,183.5 L106.1,183.6 L106.3,183.7 L106.5,183.7 L106.7,183.7 L107.0,183.7 L107.2,183.6 L107.4,183.6 L107.7,183.5 L107.9,183.4 L108.1,183.4 L108.3,183.3 L108.6,183.3 L108.8,183.4 L109.0,183.5 L109.3,183.6 L109.5,183.7 L109.7,183.7 L109.9,183.7 L110.2,183.7 L110.4,183.6 L110.6,183.6 L110.9,183.7 L111.1,183.7 L111.3,183.7 L111.5,183.7 L111.8,183.6 L112.0,183.5 L112.2,183.4 L112.4,183.3 L112.7,183.3 L112.9,183.4 L113.1,183.5 L113.4,183.6 L113.6,183.6 L113.8,183.4 L114.0,183.3 L114.3,183.2 L114.5,183.1 L114.7,183.2 L115.0,183.3 L115.2,183.3 L115.4,183.4 L115.6,183.3 L115.9,183.2 L116.1,183.1 L116.3,182.9 L116.6,182.7 L116.8,182.5 L117.0,182.3 L117.2,182.2 L117.3,182.2 L117.5,182.2 L117.7,182.4 L117.9,182.7 L118.2,183.0 L118.4,183.2 L118.6,183.3 L118.8,183.3 L119.1,183.2 L119.3,183.1 L119.5,183.0 L119.8,183.1 L120.0,183.2 L120.2,183.2 L120.4,183.3 L120.7,183.4 L120.9,183.4 L121.1,183.5 L121.4,183.5 L121.6,183.5 L121.8,183.4 L122.0,183.3 L122.3,183.2 L122.5,183.1 L122.7,183.1 L123.0,183.1 L123.2,183.1 L123.4,183.1 L123.6,183.1 L123.9,183.2 L124.1,183.3 L124.3,183.4 L124.6,183.4 L124.8,183.4 L125.0,183.3 L125.2,183.2 L125.5,183.1 L125.7,183.1 L125.9,183.1 L126.2,183.1 L126.4,183.1 L126.6,183.0 L126.8,182.7 L127.1,182.3 L127.3,181.5 L127.5,180.6 L127.7,180.1 L127.8,180.0 L128.0,180.4 L128.2,181.2 L128.4,182.0 L128.7,182.4 L128.9,182.6 L129.1,182.7 L129.3,182.7 L129.6,182.7 L129.8,182.8 L130.0,182.9 L130.3,183.0 L130.5,183.0 L130.7,182.9 L130.9,182.8 L131.2,182.7 L131.4,182.6 L131.6,182.6 L131.9,182.7 L132.1,182.8 L132.3,182.9 L132.5,182.9 L132.8,182.7 L133.0,182.4 L133.2,182.2 L133.5,181.9 L133.7,181.8 L133.9,181.7 L134.1,181.3 L134.4,180.6 L134.6,179.0 L134.8,176.5 L135.1,174.6 L135.1,174.5 L135.3,175.4 L135.5,177.7 L135.7,179.7 L136.0,180.8 L136.2,181.4 L136.4,181.7 L136.7,182.0 L136.9,182.2 L137.1,182.4 L137.3,182.6 L137.6,182.7 L137.8,182.6 L138.0,182.6 L138.3,182.5 L138.5,182.5 L138.7,182.5 L138.9,182.5 L139.2,182.5 L139.4,182.6 L139.6,182.6 L139.9,182.7 L140.1,182.8 L140.3,182.9 L140.5,182.9 L140.8,182.9 L141.0,182.8 L141.2,182.8 L141.5,182.7 L141.7,182.7 L141.9,182.6 L142.1,182.5 L142.4,182.5 L142.6,182.5 L142.8,182.6 L143.0,182.6 L143.3,182.7 L143.5,182.7 L143.7,182.3 L144.0,181.5 L144.2,180.3 L144.4,178.8 L144.6,178.2 L144.6,178.3 L144.9,179.3 L145.1,180.6 L145.3,181.4 L145.6,181.8 L145.8,182.0 L146.0,182.2 L146.2,182.2 L146.5,182.3 L146.7,182.3 L146.9,182.3 L147.2,182.3 L147.4,182.2 L147.6,182.1 L147.8,182.0 L148.1,181.7 L148.3,181.0 L148.5,179.8 L148.8,178.0 L149.0,176.8 L149.0,176.8 L149.2,177.6 L149.4,179.2 L149.7,180.5 L149.9,181.3 L150.1,181.7 L150.4,181.9 L150.6,182.1 L150.8,182.1 L151.0,182.1 L151.3,182.2 L151.5,182.2 L151.7,182.3 L152.0,182.4 L152.2,182.5 L152.4,182.5 L152.6,182.6 L152.9,182.7 L153.1,182.7 L153.3,182.8 L153.6,182.8 L153.8,182.9 L154.0,182.9 L154.2,182.9 L154.5,182.9 L154.7,182.9 L154.9,182.9 L155.2,182.9 L155.4,183.0 L155.6,183.0 L155.8,182.9 L156.1,182.9 L156.3,182.9 L156.5,182.8 L156.8,182.8 L157.0,182.8 L157.2,182.8 L157.4,182.8 L157.7,182.7 L157.9,182.5 L158.1,182.1 L158.3,181.3 L158.6,180.1 L158.8,178.9 L158.9,178.7 L159.0,179.0 L159.3,180.2 L159.5,181.3 L159.7,181.9 L159.9,182.2 L160.2,182.3 L160.4,182.4 L160.6,182.4 L160.9,182.5 L161.1,182.6 L161.3,182.7 L161.5,182.7 L161.8,182.7 L162.0,182.6 L162.2,182.6 L162.5,182.5 L162.7,182.4 L162.9,182.3 L163.1,182.1 L163.4,181.7 L163.6,181.2 L163.8,180.7 L164.1,180.4 L164.1,180.4 L164.3,180.7 L164.5,181.3 L164.7,181.8 L165.0,182.3 L165.2,182.6 L165.4,182.7 L165.7,182.8 L165.9,182.7 L166.1,182.6 L166.3,182.5 L166.6,182.5 L166.8,182.6 L167.0,182.6 L167.3,182.7 L167.5,182.8 L167.7,182.8 L167.9,182.7 L168.2,182.7 L168.4,182.7 L168.6,182.7 L168.9,182.7 L169.1,182.7 L169.3,182.7 L169.5,182.7 L169.8,182.7 L170.0,182.6 L170.2,182.6 L170.5,182.5 L170.7,182.6 L170.9,182.7 L171.1,182.8 L171.4,182.9 L171.6,182.9 L171.8,182.7 L172.1,182.5 L172.3,182.2 L172.5,181.9 L172.7,181.7 L173.0,181.6 L173.1,181.5 L173.2,181.6 L173.4,181.8 L173.6,182.1 L173.9,182.3 L174.1,182.4 L174.3,182.5 L174.6,182.5 L174.8,182.5 L175.0,182.5 L175.2,182.5 L175.5,182.4 L175.7,182.5 L175.9,182.6 L176.2,182.7 L176.4,182.7 L176.6,182.7 L176.8,182.7 L177.1,182.6 L177.3,182.6 L177.5,182.5 L177.8,182.5 L178.0,182.5 L178.2,182.4 L178.4,182.4 L178.7,182.4 L178.9,182.4 L179.1,182.4 L179.4,182.3 L179.6,182.3 L179.8,182.2 L180.0,182.0 L180.3,181.8 L180.5,181.4 L180.7,180.9 L181.0,180.3 L181.2,179.8 L181.3,179.7 L181.4,179.8 L181.6,180.3 L181.9,181.0 L182.1,181.6 L182.3,182.1 L182.6,182.4 L182.8,182.5 L183.0,182.6 L183.2,182.7 L183.5,182.7 L183.7,182.8 L183.9,182.9 L184.2,183.0 L184.4,183.0 L184.6,183.1 L184.8,183.1 L185.1,183.1 L185.3,183.1 L185.5,183.1 L185.8,183.1 L186.0,183.1 L186.2,183.1 L186.4,183.2 L186.7,183.1 L186.9,183.0 L187.1,182.9 L187.3,182.8 L187.6,182.7 L187.8,182.7 L188.0,182.8 L188.3,182.8 L188.5,182.8 L188.7,182.8 L188.9,182.8 L189.2,182.8 L189.4,182.7 L189.6,182.8 L189.9,182.8 L190.1,182.9 L190.3,182.9 L190.5,183.0 L190.8,183.0 L191.0,183.0 L191.2,183.0 L191.5,183.0 L191.7,183.0 L191.9,183.1 L192.1,183.1 L192.4,183.1 L192.6,183.1 L192.8,183.1 L193.1,183.1 L193.3,183.1 L193.5,183.1 L193.7,183.0 L194.0,183.0 L194.2,182.9 L194.4,182.8 L194.7,182.8 L194.9,182.9 L195.1,182.9 L195.3,182.9 L195.6,182.9 L195.8,182.9 L196.0,183.0 L196.3,183.0 L196.5,183.0 L196.7,182.9 L196.9,182.9 L197.2,182.8 L197.4,182.7 L197.6,182.7 L197.9,182.7 L198.1,182.7 L198.3,182.7 L198.5,182.7 L198.8,182.8 L199.0,182.8 L199.2,182.9 L199.5,182.9 L199.7,182.9 L199.9,182.9 L200.1,182.8 L200.4,182.8 L200.6,182.8 L200.8,182.9 L201.1,183.0 L201.3,183.1 L201.5,183.2 L201.7,183.1 L202.0,183.0 L202.2,182.9 L202.4,182.9 L202.6,182.8 L202.9,182.8 L203.1,182.7 L203.3,182.7 L203.6,182.6 L203.8,182.6 L204.0,182.5 L204.2,182.4 L204.5,182.3 L204.7,182.2 L204.9,182.1 L205.0,182.1 L205.2,182.1 L205.4,182.2 L205.6,182.4 L205.8,182.5 L206.1,182.6 L206.3,182.7 L206.5,182.8 L206.8,182.9 L207.0,182.9 L207.2,183.0 L207.4,183.1 L207.7,183.1 L207.9,183.1 L208.1,183.1 L208.4,183.1 L208.6,183.1 L208.8,183.1 L209.0,183.0 L209.3,183.0 L209.5,183.0 L209.7,183.1 L210.0,183.1 L210.2,183.2 L210.4,183.2 L210.6,183.2 L210.9,183.1 L211.1,183.1 L211.3,183.0 L211.6,183.0 L211.8,183.1 L212.0,183.2 L212.2,183.3 L212.5,183.4 L212.7,183.4 L212.9,183.4 L213.2,183.4 L213.4,183.5 L213.6,183.4 L213.8,183.4 L214.1,183.4 L214.3,183.3 L214.5,183.2 L214.8,183.2 L215.0,183.1 L215.2,183.0 L215.4,182.8 L215.7,182.7 L215.9,182.7 L216.1,182.6 L216.3,182.6 L216.4,182.6 L216.6,182.6 L216.8,182.7 L217.0,182.9 L217.3,183.0 L217.5,183.1 L217.7,183.0 L217.9,183.0 L218.2,183.0 L218.4,182.9 L218.6,182.9 L218.9,183.0 L219.1,183.1 L219.3,183.1 L219.5,183.2 L219.8,183.2 L220.0,183.2 L220.2,183.2 L220.5,183.2 L220.7,183.2 L220.9,183.2 L221.1,183.1 L221.4,183.0 L221.6,183.0 L221.8,183.0 L222.1,183.0 L222.3,182.9 L222.5,182.9 L222.7,183.0 L223.0,183.0 L223.2,183.1 L223.4,183.0 L223.7,182.9 L223.9,182.7 L224.1,182.4 L224.3,182.3 L224.5,182.2 L224.6,182.2 L224.8,182.3 L225.0,182.5 L225.3,182.7 L225.5,182.9 L225.7,183.0 L225.9,183.2 L226.2,183.3 L226.4,183.4 L226.6,183.5 L226.9,183.4 L227.1,183.4 L227.3,183.4 L227.5,183.3 L227.8,183.3 L228.0,183.3 L228.2,183.2 L228.5,183.2 L228.7,183.3 L228.9,183.4 L229.1,183.5 L229.4,183.6 L229.6,183.6 L229.8,183.5 L230.1,183.4 L230.3,183.4 L230.5,183.3 L230.7,183.2 L231.0,183.2 L231.2,183.1 L231.4,183.1 L231.7,183.1 L231.9,183.2 L232.1,183.3 L232.3,183.4 L232.6,183.5 L232.8,183.4 L233.0,183.3 L233.2,183.2 L233.5,183.1 L233.7,183.2 L233.9,183.2 L234.2,183.2 L234.4,183.2 L234.6,183.3 L234.8,183.4 L235.1,183.5 L235.3,183.5 L235.5,183.6 L235.8,183.6 L236.0,183.6 L236.2,183.5 L236.4,183.5 L236.7,183.4 L236.9,183.3 L237.1,183.2 L237.4,183.1 L237.6,183.1 L237.8,183.2 L238.0,183.2 L238.3,183.3 L238.5,183.4 L238.7,183.4 L239.0,183.3 L239.2,183.3 L239.4,183.3 L239.6,183.3 L239.9,183.3 L240.1,183.4 L240.3,183.4 L240.6,183.4 L240.8,183.3 L241.0,183.3 L241.2,183.2 L241.5,183.2 L241.7,183.2 L241.9,183.3 L242.2,183.3 L242.4,183.4 L242.6,183.4 L242.8,183.3 L243.1,183.2 L243.3,183.1 L243.5,183.0 L243.8,183.1 L244.0,183.1 L244.2,183.1 L244.4,183.1 L244.7,183.1 L244.9,183.0 L245.1,183.0 L245.4,183.0 L245.6,182.9 L245.8,182.9 L246.0,182.8 L246.3,182.6 L246.5,182.4 L246.7,182.0 L247.0,181.5 L247.2,180.9 L247.4,180.3 L247.6,180.0 L247.9,180.0 L247.9,180.0 L248.1,180.1 L248.3,180.5 L248.5,181.0 L248.8,181.4 L249.0,181.7 L249.2,182.0 L249.5,182.2 L249.7,182.5 L249.9,182.7 L250.1,182.9 L250.4,183.0 L250.6,183.1 L250.8,183.2 L251.1,183.2 L251.3,183.2 L251.5,183.2 L251.7,183.2 L252.0,183.2 L252.2,183.3 L252.4,183.3 L252.7,183.3 L252.9,183.4 L253.1,183.4 L253.3,183.5 L253.6,183.5 L253.8,183.4 L254.0,183.4 L254.3,183.3 L254.5,183.3 L254.7,183.2 L254.9,183.2 L255.2,183.2 L255.4,183.1 L255.6,183.1 L255.9,183.1 L256.1,183.1 L256.3,183.1 L256.5,183.1 L256.8,183.0 L257.0,183.0 L257.2,183.0 L257.5,182.9 L257.7,182.9 L257.9,183.0 L258.1,182.9 L258.4,182.9 L258.6,182.8 L258.8,182.5 L259.1,182.2 L259.3,181.9 L259.5,181.6 L259.7,181.5 L259.9,181.5 L260.0,181.5 L260.2,181.7 L260.4,182.0 L260.7,182.2 L260.9,182.4 L261.1,182.6 L261.3,182.8 L261.6,182.9 L261.8,183.0 L262.0,183.0 L262.3,182.9 L262.5,182.9 L262.7,183.0 L262.9,183.1 L263.2,183.2 L263.4,183.3 L263.6,183.4 L263.8,183.4 L264.1,183.4 L264.3,183.4 L264.5,183.4 L264.8,183.4 L265.0,183.3 L265.2,183.3 L265.4,183.2 L265.7,183.1 L265.9,182.9 L266.1,182.7 L266.4,182.5 L266.6,182.2 L266.8,182.0 L267.0,181.7 L267.3,181.4 L267.5,181.3 L267.6,181.3 L267.7,181.3 L268.0,181.5 L268.2,181.7 L268.4,182.0 L268.6,182.3 L268.9,182.6 L269.1,182.8 L269.3,183.1 L269.6,183.2 L269.8,183.2 L270.0,183.2 L270.2,183.2 L270.5,183.1 L270.7,183.2 L270.9,183.2 L271.2,183.3 L271.4,183.4 L271.6,183.4 L271.8,183.4 L272.1,183.4 L272.3,183.4 L272.5,183.4 L272.8,183.5 L273.0,183.5 L273.2,183.6 L273.4,183.7 L273.7,183.7 L273.9,183.7 L274.1,183.7 L274.4,183.6 L274.6,183.6 L274.8,183.7 L275.0,183.7 L275.3,183.7 L275.5,183.7 L275.7,183.7 L276.0,183.7 L276.2,183.7 L276.4,183.7 L276.6,183.6 L276.9,183.5 L277.1,183.5 L277.3,183.4 L277.6,183.3 L277.8,183.3 L278.0,183.3 L278.2,183.3 L278.5,183.3 L278.7,183.3 L278.9,183.4 L279.1,183.4 L279.4,183.4 L279.6,183.4 L279.8,183.4 L280.1,183.4 L280.3,183.3 L280.5,183.3 L280.7,183.3 L281.0,183.4 L281.2,183.4 L281.4,183.4 L281.7,183.4 L281.9,183.5 L282.1,183.5 L282.3,183.5 L282.6,183.6 L282.8,183.6 L283.0,183.7 L283.3,183.7 L283.5,183.7 L283.7,183.7 L283.9,183.6 L284.2,183.6 L284.4,183.5 L284.6,183.5 L284.9,183.6 L285.1,183.6 L285.3,183.6 L285.5,183.6 L285.8,183.5 L286.0,183.4 L286.2,183.3 L286.5,183.2 L286.7,183.2 L286.9,183.3 L287.1,183.3 L287.4,183.3 L287.6,183.4 L287.8,183.5 L288.1,183.6 L288.3,183.7 L288.5,183.8 L288.7,183.6 L289.0,183.5 L289.2,183.4 L289.4,183.3 L289.7,183.2 L289.9,183.3 L290.1,183.3 L290.3,183.4 L290.6,183.4 L290.8,183.3 L291.0,183.3 L291.3,183.2 L291.5,183.2 L291.7,183.2 L291.9,183.2 L292.2,183.2 L292.4,183.2 L292.6,183.2 L292.9,183.4 L293.1,183.5 L293.3,183.6 L293.5,183.7 L293.8,183.7 L294.0,183.7 L294.2,183.7 L294.4,183.7 L294.7,183.7 L294.9,183.7 L295.1,183.6 L295.4,183.6 L295.6,183.5 L295.8,183.4 L296.0,183.3 L296.3,183.3 L296.5,183.2 L296.7,183.2 L297.0,183.2 L297.2,183.3 L297.4,183.3 L297.6,183.3 L297.9,183.3 L298.1,183.3 L298.3,183.3 L298.6,183.3 L298.8,183.3 L299.0,183.4 L299.2,183.5 L299.5,183.5 L299.7,183.5 L299.9,183.5 L300.2,183.5 L300.4,183.5 L300.6,183.5 L300.8,183.5 L301.1,183.4 L301.3,183.4 L301.5,183.4 L301.8,183.4 L302.0,183.4 L302.2,183.4 L302.4,183.4 L302.7,183.4 L302.9,183.3 L303.1,183.3 L303.4,183.2 L303.6,183.2 L303.8,183.3 L304.0,183.3 L304.3,183.4 L304.5,183.4 L304.7,183.5 L305.0,183.6 L305.2,183.6 L305.4,183.7 L305.6,183.7 L305.9,183.7 L306.1,183.6 L306.3,183.6 L306.6,183.6 L306.8,183.5 L307.0,183.4 L307.2,183.3 L307.5,183.2 L307.7,183.2 L307.9,183.3 L308.2,183.3 L308.4,183.4 L308.6,183.4 L308.8,183.5 L309.1,183.5 L309.3,183.5 L309.5,183.5 L309.7,183.5 L310.0,183.4 L310.2,183.3 L310.4,183.3 L310.7,183.3 L310.9,183.4 L311.1,183.5 L311.3,183.6 L311.6,183.6 L311.8,183.6 L312.0,183.5 L312.3,183.4 L312.5,183.4 L312.7,183.4 L312.9,183.4 L313.2,183.5 L313.4,183.5 L313.6,183.5 L313.9,183.5 L314.1,183.4 L314.3,183.4 L314.5,183.3 L314.8,183.4 L315.0,183.5 L315.2,183.6 L315.5,183.7 L315.7,183.7 L315.9,183.6 L316.1,183.6 L316.4,183.6 L316.6,183.5 L316.8,183.5 L317.1,183.5 L317.3,183.5 L317.5,183.4 L317.7,183.4 L318.0,183.3 L318.2,183.2 L318.4,183.2 L318.7,183.2 L318.9,183.2 L319.1,183.3 L319.3,183.3 L319.6,183.3 L319.8,183.3 L320.0,183.2 L320.3,183.1 L320.5,183.1 L320.7,183.1 L320.9,183.2 L321.2,183.3 L321.4,183.4 L321.6,183.5 L321.9,183.5 L322.1,183.5 L322.3,183.6 L322.5,183.6 L322.8,183.5 L323.0,183.4 L323.2,183.3 L323.5,183.2 L323.7,183.2 L323.9,183.2 L324.1,183.3 L324.4,183.3 L324.6,183.4 L324.8,183.4 L325.0,183.4 L325.3,183.4 L325.5,183.3 L325.7,183.3 L326.0,183.3 L326.2,183.3 L326.4,183.3 L326.6,183.3 L326.9,183.4 L327.1,183.4 L327.3,183.5 L327.6,183.5 L327.8,183.5 L328.0,183.6 L328.2,183.6 L328.5,183.6 L328.7,183.6 L328.9,183.6 L329.2,183.5 L329.4,183.5 L329.6,183.5 L329.8,183.4 L330.1,183.4 L330.3,183.4 L330.5,183.3 L330.8,183.4 L331.0,183.5 L331.2,183.5 L331.4,183.6 L331.7,183.6 L331.9,183.5 L332.1,183.4 L332.4,183.3 L332.6,183.3 L332.8,183.3 L333.0,183.4 L333.3,183.4 L333.5,183.5 L333.7,183.5 L334.0,183.5 L334.2,183.5 L334.4,183.4 L334.6,183.4 L334.9,183.5 L335.1,183.5 L335.3,183.5 L335.6,183.5 L335.8,183.5 L336.0,183.5 L336.2,183.5 L336.5,183.6 L336.7,183.5 L336.9,183.4 L337.2,183.3 L337.4,183.2 L337.6,183.2 L337.8,183.2 L338.1,183.3 L338.3,183.3 L338.5,183.4 L338.8,183.4 L339.0,183.3 L339.2,183.3 L339.4,183.3 L339.7,183.3 L339.9,183.3 L340.1,183.4 L340.3,183.4 L340.6,183.4 L340.8,183.5 L341.0,183.5 L341.3,183.6 L341.5,183.6 L341.7,183.6 L341.9,183.5 L342.2,183.5 L342.4,183.4 L342.6,183.3 L342.9,183.3 L343.1,183.2 L343.3,183.1 L343.5,183.0 L343.8,183.1 L344.0,183.1 L344.2,183.2 L344.5,183.3 L344.7,183.3 L344.9,183.3 L345.1,183.4 L345.4,183.4 L345.6,183.4 L345.8,183.5 L346.1,183.5 L346.3,183.5 L346.5,183.5 L346.7,183.5 L347.0,183.5 L347.2,183.4" class="tr" stroke="#2200c6" style="stroke-width:2.2"/>
<path d="M27.5,245.7 L27.7,245.8 L28.0,245.8 L28.2,245.8 L28.4,245.8 L28.6,245.8 L28.9,245.8 L29.1,245.8 L29.3,245.8 L29.6,245.8 L29.8,245.8 L30.0,245.8 L30.2,245.8 L30.5,245.8 L30.7,245.8 L30.9,245.8 L31.2,245.8 L31.4,245.8 L31.6,245.8 L31.8,245.7 L32.1,245.7 L32.3,245.6 L32.5,245.6 L32.8,245.6 L33.0,245.5 L33.2,245.5 L33.4,245.5 L33.7,245.5 L33.9,245.6 L34.1,245.6 L34.4,245.7 L34.6,245.7 L34.8,245.6 L35.0,245.5 L35.3,245.5 L35.5,245.4 L35.7,245.3 L35.9,245.3 L36.2,245.3 L36.4,245.2 L36.6,245.2 L36.9,245.2 L37.1,245.1 L37.3,245.1 L37.5,245.0 L37.8,244.8 L38.0,244.6 L38.2,244.3 L38.5,244.0 L38.7,243.6 L38.9,243.1 L39.1,242.2 L39.4,240.0 L39.6,234.9 L39.8,226.8 L40.0,223.5 L40.1,223.9 L40.3,231.1 L40.5,237.9 L40.7,241.3 L41.0,242.7 L41.2,243.4 L41.4,243.9 L41.7,244.2 L41.9,244.4 L42.1,244.5 L42.3,244.7 L42.6,244.8 L42.8,244.9 L43.0,245.1 L43.3,245.2 L43.5,245.3 L43.7,245.4 L43.9,245.4 L44.2,245.5 L44.4,245.6 L44.6,245.6 L44.9,245.6 L45.1,245.6 L45.3,245.6 L45.5,245.6 L45.8,245.6 L46.0,245.7 L46.2,245.7 L46.5,245.7 L46.7,245.7 L46.9,245.7 L47.1,245.7 L47.4,245.7 L47.6,245.7 L47.8,245.7 L48.1,245.6 L48.3,245.6 L48.5,245.6 L48.7,245.6 L49.0,245.7 L49.2,245.7 L49.4,245.8 L49.7,245.8 L49.9,245.8 L50.1,245.8 L50.3,245.8 L50.6,245.8 L50.8,245.8 L51.0,245.7 L51.2,245.7 L51.5,245.7 L51.7,245.7 L51.9,245.7 L52.2,245.6 L52.4,245.6 L52.6,245.6 L52.8,245.7 L53.1,245.8 L53.3,245.8 L53.5,245.9 L53.8,245.9 L54.0,245.8 L54.2,245.8 L54.4,245.8 L54.7,245.8 L54.9,245.8 L55.1,245.8 L55.4,245.8 L55.6,245.9 L55.8,245.9 L56.0,245.9 L56.3,245.9 L56.5,245.9 L56.7,245.9 L57.0,245.9 L57.2,245.9 L57.4,245.9 L57.6,245.9 L57.9,245.9 L58.1,245.9 L58.3,245.9 L58.6,245.9 L58.8,245.9 L59.0,245.8 L59.2,245.8 L59.5,245.7 L59.7,245.8 L59.9,245.8 L60.2,245.8 L60.4,245.9 L60.6,245.9 L60.8,245.8 L61.1,245.8 L61.3,245.8 L61.5,245.8 L61.8,245.8 L62.0,245.8 L62.2,245.9 L62.4,245.9 L62.7,245.9 L62.9,245.9 L63.1,245.9 L63.4,245.9 L63.6,245.9 L63.8,245.8 L64.0,245.8 L64.3,245.7 L64.5,245.6 L64.7,245.6 L65.0,245.6 L65.2,245.6 L65.4,245.6 L65.6,245.6 L65.9,245.6 L66.1,245.6 L66.3,245.7 L66.5,245.7 L66.8,245.7 L67.0,245.8 L67.2,245.9 L67.5,245.9 L67.7,245.9 L67.9,245.8 L68.1,245.8 L68.4,245.8 L68.6,245.7 L68.8,245.8 L69.1,245.8 L69.3,245.8 L69.5,245.8 L69.7,245.8 L70.0,245.7 L70.2,245.7 L70.4,245.7 L70.7,245.7 L70.9,245.7 L71.1,245.7 L71.3,245.7 L71.6,245.7 L71.8,245.7 L72.0,245.7 L72.3,245.7 L72.5,245.7 L72.7,245.7 L72.9,245.7 L73.2,245.7 L73.4,245.7 L73.6,245.7 L73.9,245.7 L74.1,245.7 L74.3,245.7 L74.5,245.7 L74.8,245.7 L75.0,245.7 L75.2,245.7 L75.5,245.7 L75.7,245.7 L75.9,245.8 L76.1,245.8 L76.4,245.8 L76.6,245.8 L76.8,245.8 L77.1,245.8 L77.3,245.7 L77.5,245.7 L77.7,245.7 L78.0,245.7 L78.2,245.7 L78.4,245.7 L78.7,245.6 L78.9,245.5 L79.1,245.3 L79.3,245.1 L79.6,244.9 L79.8,244.7 L80.0,244.5 L80.1,244.5 L80.3,244.6 L80.5,244.8 L80.7,245.0 L80.9,245.2 L81.2,245.3 L81.4,245.5 L81.6,245.5 L81.8,245.5 L82.1,245.5 L82.3,245.5 L82.5,245.5 L82.8,245.6 L83.0,245.6 L83.2,245.7 L83.4,245.7 L83.7,245.8 L83.9,245.8 L84.1,245.8 L84.4,245.8 L84.6,245.8 L84.8,245.8 L85.0,245.8 L85.3,245.8 L85.5,245.8 L85.7,245.8 L86.0,245.7 L86.2,245.7 L86.4,245.7 L86.6,245.7 L86.9,245.7 L87.1,245.7 L87.3,245.7 L87.6,245.7 L87.8,245.6 L88.0,245.6 L88.2,245.6 L88.5,245.5 L88.7,245.5 L88.9,245.6 L89.2,245.6 L89.4,245.7 L89.6,245.7 L89.8,245.7 L90.1,245.7 L90.3,245.6 L90.5,245.6 L90.8,245.6 L91.0,245.5 L91.2,245.5 L91.4,245.5 L91.7,245.5 L91.9,245.4 L92.1,245.4 L92.4,245.4 L92.6,245.4 L92.8,245.4 L93.0,245.5 L93.3,245.6 L93.5,245.6 L93.7,245.6 L94.0,245.6 L94.2,245.6 L94.4,245.6 L94.6,245.5 L94.9,245.4 L95.1,245.3 L95.3,245.2 L95.6,245.2 L95.8,245.2 L96.0,245.2 L96.2,245.2 L96.5,245.2 L96.7,245.1 L96.9,245.0 L97.1,244.9 L97.4,244.7 L97.6,244.5 L97.8,244.3 L98.1,244.0 L98.3,243.5 L98.5,242.4 L98.7,240.5 L99.0,237.5 L99.2,234.5 L99.3,234.1 L99.4,234.8 L99.7,238.1 L99.9,241.0 L100.1,242.8 L100.3,243.7 L100.6,244.2 L100.8,244.5 L101.0,244.7 L101.3,244.9 L101.5,245.0 L101.7,245.0 L101.9,245.0 L102.2,245.0 L102.4,245.0 L102.6,245.0 L102.9,245.1 L103.1,245.2 L103.3,245.3 L103.5,245.3 L103.8,245.3 L104.0,245.3 L104.2,245.2 L104.5,245.2 L104.7,245.2 L104.9,245.3 L105.1,245.4 L105.4,245.4 L105.6,245.5 L105.8,245.4 L106.1,245.4 L106.3,245.4 L106.5,245.3 L106.7,245.4 L107.0,245.4 L107.2,245.5 L107.4,245.5 L107.7,245.6 L107.9,245.6 L108.1,245.6 L108.3,245.6 L108.6,245.6 L108.8,245.5 L109.0,245.5 L109.3,245.5 L109.5,245.4 L109.7,245.5 L109.9,245.5 L110.2,245.5 L110.4,245.6 L110.6,245.6 L110.9,245.5 L111.1,245.4 L111.3,245.4 L111.5,245.3 L111.8,245.3 L112.0,245.3 L112.2,245.3 L112.4,245.3 L112.7,245.3 L112.9,245.3 L113.1,245.4 L113.4,245.4 L113.6,245.4 L113.8,245.4 L114.0,245.3 L114.3,245.3 L114.5,245.2 L114.7,245.2 L115.0,245.2 L115.2,245.2 L115.4,245.3 L115.6,245.3 L115.9,245.3 L116.1,245.3 L116.3,245.3 L116.6,245.3 L116.8,245.3 L117.0,245.3 L117.2,245.4 L117.5,245.4 L117.7,245.3 L117.9,245.3 L118.2,245.3 L118.4,245.2 L118.6,245.2 L118.8,245.2 L119.1,245.2 L119.3,245.1 L119.5,245.1 L119.8,245.2 L120.0,245.3 L120.2,245.3 L120.4,245.4 L120.7,245.4 L120.9,245.3 L121.1,245.3 L121.4,245.2 L121.6,245.2 L121.8,245.2 L122.0,245.3 L122.3,245.3 L122.5,245.4 L122.7,245.4 L123.0,245.3 L123.2,245.3 L123.4,245.3 L123.6,245.3 L123.9,245.2 L124.1,245.2 L124.3,245.1 L124.6,245.0 L124.8,245.0 L125.0,245.0 L125.2,245.0 L125.5,244.9 L125.7,244.8 L125.9,244.7 L126.2,244.6 L126.4,244.4 L126.6,244.0 L126.8,243.6 L127.1,243.0 L127.3,242.4 L127.5,241.9 L127.7,241.7 L127.7,241.7 L128.0,242.0 L128.2,242.5 L128.4,243.0 L128.7,243.4 L128.9,243.6 L129.1,243.5 L129.3,243.3 L129.6,242.8 L129.8,242.3 L130.0,241.7 L130.3,241.5 L130.3,241.4 L130.5,241.6 L130.7,242.2 L130.9,242.9 L131.2,243.5 L131.4,243.9 L131.6,244.2 L131.9,244.4 L132.1,244.5 L132.3,244.5 L132.5,244.5 L132.8,244.4 L133.0,244.4 L133.2,244.3 L133.5,244.1 L133.7,243.9 L133.9,243.5 L134.1,242.8 L134.4,241.7 L134.6,240.2 L134.8,238.3 L135.1,236.8 L135.2,236.5 L135.3,236.6 L135.5,237.8 L135.7,239.6 L136.0,241.2 L136.2,242.4 L136.4,243.2 L136.7,243.7 L136.9,244.1 L137.1,244.3 L137.3,244.5 L137.6,244.6 L137.8,244.6 L138.0,244.6 L138.3,244.6 L138.5,244.5 L138.7,244.5 L138.9,244.5 L139.2,244.5 L139.4,244.5 L139.6,244.4 L139.9,244.3 L140.1,244.3 L140.3,244.2 L140.5,244.1 L140.8,244.0 L141.0,244.0 L141.2,243.9 L141.5,243.8 L141.7,243.7 L141.9,243.5 L142.1,243.3 L142.4,243.1 L142.6,242.7 L142.8,242.3 L143.0,241.7 L143.3,240.8 L143.5,239.2 L143.7,236.1 L144.0,229.7 L144.2,220.1 L144.4,214.8 L144.4,214.9 L144.6,221.8 L144.9,231.1 L145.1,236.9 L145.3,239.7 L145.6,241.0 L145.8,241.7 L146.0,242.1 L146.2,242.4 L146.5,242.6 L146.7,242.8 L146.9,243.0 L147.2,243.1 L147.4,243.0 L147.6,242.8 L147.8,242.3 L148.1,241.5 L148.3,240.4 L148.5,239.0 L148.8,237.9 L148.9,237.7 L149.0,237.8 L149.2,238.8 L149.4,240.3 L149.7,241.6 L149.9,242.6 L150.1,243.2 L150.4,243.6 L150.6,243.8 L150.8,244.0 L151.0,244.1 L151.3,244.2 L151.5,244.3 L151.7,244.4 L152.0,244.4 L152.2,244.4 L152.4,244.4 L152.6,244.4 L152.9,244.3 L153.1,244.3 L153.3,244.2 L153.6,244.1 L153.8,244.1 L154.0,244.1 L154.2,244.1 L154.5,244.0 L154.7,244.0 L154.9,244.0 L155.2,243.9 L155.4,243.9 L155.6,243.8 L155.8,243.7 L156.1,243.6 L156.3,243.4 L156.5,243.2 L156.8,242.8 L157.0,242.4 L157.2,241.8 L157.4,241.0 L157.7,239.7 L157.9,237.0 L158.1,231.3 L158.3,222.1 L158.6,215.1 L158.6,215.0 L158.8,220.2 L159.0,229.7 L159.3,236.2 L159.5,239.4 L159.7,240.8 L159.9,241.6 L160.2,242.2 L160.4,242.5 L160.6,242.8 L160.9,243.1 L161.1,243.3 L161.3,243.4 L161.5,243.6 L161.8,243.7 L162.0,243.7 L162.2,243.7 L162.5,243.7 L162.7,243.6 L162.9,243.4 L163.1,243.2 L163.4,242.7 L163.6,242.2 L163.8,241.6 L164.1,241.2 L164.2,241.2 L164.3,241.2 L164.5,241.6 L164.7,242.2 L165.0,242.8 L165.2,243.3 L165.4,243.7 L165.7,244.0 L165.9,244.2 L166.1,244.3 L166.3,244.4 L166.6,244.5 L166.8,244.5 L167.0,244.6 L167.3,244.7 L167.5,244.7 L167.7,244.7 L167.9,244.6 L168.2,244.6 L168.4,244.5 L168.6,244.5 L168.9,244.6 L169.1,244.6 L169.3,244.7 L169.5,244.7 L169.8,244.7 L170.0,244.7 L170.2,244.7 L170.5,244.7 L170.7,244.7 L170.9,244.6 L171.1,244.5 L171.4,244.4 L171.6,244.3 L171.8,244.1 L172.1,243.9 L172.3,243.6 L172.5,243.2 L172.7,242.9 L173.0,242.6 L173.2,242.5 L173.2,242.5 L173.4,242.7 L173.6,243.0 L173.9,243.3 L174.1,243.6 L174.3,243.9 L174.6,244.1 L174.8,244.3 L175.0,244.4 L175.2,244.5 L175.5,244.5 L175.7,244.6 L175.9,244.6 L176.2,244.6 L176.4,244.7 L176.6,244.7 L176.8,244.7 L177.1,244.8 L177.3,244.8 L177.5,244.8 L177.8,244.7 L178.0,244.6 L178.2,244.6 L178.4,244.5 L178.7,244.4 L178.9,244.4 L179.1,244.3 L179.4,244.2 L179.6,244.0 L179.8,243.7 L180.0,243.3 L180.3,242.8 L180.5,242.1 L180.7,241.6 L181.0,241.2 L181.1,241.2 L181.2,241.2 L181.4,241.6 L181.6,242.2 L181.9,242.7 L182.1,243.3 L182.3,243.7 L182.6,244.0 L182.8,244.3 L183.0,244.5 L183.2,244.6 L183.5,244.7 L183.7,244.8 L183.9,244.7 L184.2,244.7 L184.4,244.7 L184.6,244.7 L184.8,244.7 L185.1,244.8 L185.3,244.8 L185.5,244.8 L185.8,244.8 L186.0,244.9 L186.2,244.9 L186.4,244.9 L186.7,245.0 L186.9,245.0 L187.1,245.0 L187.3,245.0 L187.6,245.1 L187.8,245.0 L188.0,245.0 L188.3,245.0 L188.5,244.9 L188.7,244.9 L188.9,244.9 L189.2,244.9 L189.4,244.8 L189.6,244.8 L189.9,244.8 L190.1,244.8 L190.3,244.8 L190.5,244.8 L190.8,244.8 L191.0,244.8 L191.2,244.9 L191.5,244.9 L191.7,244.8 L191.9,244.7 L192.1,244.6 L192.4,244.4 L192.6,244.3 L192.8,244.2 L193.1,244.1 L193.3,244.1 L193.3,244.1 L193.5,244.2 L193.7,244.3 L194.0,244.5 L194.2,244.6 L194.4,244.8 L194.7,244.8 L194.9,244.8 L195.1,244.8 L195.3,244.8 L195.6,244.8 L195.8,244.8 L196.0,244.9 L196.3,244.9 L196.5,244.9 L196.7,244.9 L196.9,245.0 L197.2,245.0 L197.4,245.1 L197.6,245.1 L197.9,245.1 L198.1,245.1 L198.3,245.0 L198.5,245.0 L198.8,245.0 L199.0,245.1 L199.2,245.1 L199.5,245.1 L199.7,245.0 L199.9,245.0 L200.1,244.9 L200.4,244.9 L200.6,244.9 L200.8,244.8 L201.1,244.8 L201.3,244.7 L201.5,244.7 L201.7,244.7 L202.0,244.7 L202.2,244.6 L202.4,244.6 L202.6,244.5 L202.9,244.4 L203.1,244.3 L203.3,244.0 L203.6,243.6 L203.8,242.8 L204.0,241.8 L204.2,240.6 L204.5,239.2 L204.7,238.1 L204.9,237.7 L204.9,237.7 L205.2,238.3 L205.4,239.6 L205.6,241.0 L205.8,242.1 L206.1,243.0 L206.3,243.6 L206.5,244.0 L206.8,244.3 L207.0,244.5 L207.2,244.6 L207.4,244.7 L207.7,244.7 L207.9,244.8 L208.1,244.8 L208.4,244.9 L208.6,244.9 L208.8,245.0 L209.0,245.0 L209.3,245.1 L209.5,245.1 L209.7,245.1 L210.0,245.0 L210.2,245.0 L210.4,244.9 L210.6,244.9 L210.9,244.9 L211.1,244.9 L211.3,244.9 L211.6,244.9 L211.8,245.0 L212.0,245.1 L212.2,245.1 L212.5,245.2 L212.7,245.2 L212.9,245.2 L213.2,245.2 L213.4,245.2 L213.6,245.2 L213.8,245.2 L214.1,245.2 L214.3,245.2 L214.5,245.1 L214.8,245.0 L215.0,244.9 L215.2,244.7 L215.4,244.5 L215.7,244.4 L215.9,244.2 L216.1,244.1 L216.3,244.1 L216.4,244.1 L216.6,244.3 L216.8,244.4 L217.0,244.6 L217.3,244.8 L217.5,244.9 L217.7,244.9 L217.9,245.0 L218.2,245.0 L218.4,244.9 L218.6,245.0 L218.9,245.0 L219.1,245.1 L219.3,245.1 L219.5,245.1 L219.8,245.1 L220.0,245.2 L220.2,245.2 L220.5,245.2 L220.7,245.1 L220.9,245.1 L221.1,245.1 L221.4,245.0 L221.6,245.0 L221.8,244.9 L222.1,244.8 L222.3,244.7 L222.5,244.6 L222.7,244.4 L223.0,244.1 L223.2,243.7 L223.4,243.3 L223.7,242.8 L223.9,242.5 L224.1,242.3 L224.1,242.3 L224.3,242.4 L224.6,242.6 L224.8,242.8 L225.0,242.9 L225.3,242.8 L225.5,242.5 L225.7,242.0 L225.9,241.4 L226.2,240.8 L226.4,240.4 L226.5,240.4 L226.6,240.5 L226.9,241.1 L227.1,241.8 L227.3,242.6 L227.5,243.3 L227.8,243.8 L228.0,244.1 L228.2,244.4 L228.5,244.5 L228.7,244.7 L228.9,244.8 L229.1,244.9 L229.4,245.0 L229.6,245.1 L229.8,245.0 L230.1,245.0 L230.3,245.0 L230.5,244.9 L230.7,245.0 L231.0,245.1 L231.2,245.2 L231.4,245.3 L231.7,245.3 L231.9,245.3 L232.1,245.3 L232.3,245.3 L232.6,245.3 L232.8,245.3 L233.0,245.3 L233.2,245.3 L233.5,245.4 L233.7,245.4 L233.9,245.4 L234.2,245.4 L234.4,245.4 L234.6,245.4 L234.8,245.4 L235.1,245.4 L235.3,245.4 L235.5,245.4 L235.8,245.4 L236.0,245.3 L236.2,245.3 L236.4,245.3 L236.7,245.2 L236.9,245.2 L237.1,245.1 L237.4,245.1 L237.6,245.1 L237.8,245.2 L238.0,245.2 L238.3,245.3 L238.5,245.3 L238.7,245.3 L239.0,245.2 L239.2,245.2 L239.4,245.1 L239.6,245.1 L239.9,245.1 L240.1,245.1 L240.3,245.2 L240.6,245.2 L240.8,245.2 L241.0,245.2 L241.2,245.2 L241.5,245.3 L241.7,245.3 L241.9,245.2 L242.2,245.2 L242.4,245.2 L242.6,245.2 L242.8,245.2 L243.1,245.1 L243.3,245.1 L243.5,245.1 L243.8,245.1 L244.0,245.1 L244.2,245.2 L244.4,245.2 L244.7,245.1 L244.9,245.0 L245.1,245.0 L245.4,244.8 L245.6,244.7 L245.8,244.5 L246.0,244.2 L246.3,243.9 L246.5,243.4 L246.7,242.8 L247.0,242.2 L247.2,241.4 L247.4,240.7 L247.6,240.3 L247.8,240.2 L247.9,240.3 L248.1,240.6 L248.3,241.3 L248.5,242.1 L248.8,242.7 L249.0,243.3 L249.2,243.8 L249.5,244.1 L249.7,244.4 L249.9,244.6 L250.1,244.8 L250.4,244.9 L250.6,245.0 L250.8,245.0 L251.1,245.0 L251.3,245.0 L251.5,245.0 L251.7,245.0 L252.0,245.0 L252.2,245.0 L252.4,245.0 L252.7,245.0 L252.9,245.1 L253.1,245.1 L253.3,245.1 L253.6,245.2 L253.8,245.2 L254.0,245.2 L254.3,245.2 L254.5,245.3 L254.7,245.2 L254.9,245.2 L255.2,245.1 L255.4,245.0 L255.6,245.0 L255.9,245.1 L256.1,245.1 L256.3,245.2 L256.5,245.2 L256.8,245.2 L257.0,245.2 L257.2,245.1 L257.5,245.1 L257.7,245.0 L257.9,244.9 L258.1,244.8 L258.4,244.6 L258.6,244.3 L258.8,244.1 L259.1,243.7 L259.3,243.4 L259.5,243.1 L259.7,242.9 L259.8,242.8 L260.0,242.8 L260.2,242.9 L260.4,243.1 L260.7,243.4 L260.9,243.7 L261.1,243.9 L261.3,244.1 L261.6,244.1 L261.8,244.0 L262.0,243.8 L262.3,243.5 L262.5,243.0 L262.7,242.4 L262.9,241.6 L263.2,240.7 L263.4,240.0 L263.6,239.6 L263.7,239.6 L263.8,239.7 L264.1,240.2 L264.3,240.9 L264.5,241.7 L264.8,242.3 L265.0,242.9 L265.2,243.3 L265.4,243.6 L265.7,243.7 L265.9,243.7 L266.1,243.6 L266.4,243.4 L266.6,243.1 L266.8,242.8 L267.0,242.5 L267.3,242.4 L267.3,242.4 L267.5,242.6 L267.7,242.8 L268.0,243.2 L268.2,243.6 L268.4,244.0 L268.6,244.3 L268.9,244.5 L269.1,244.7 L269.3,244.9 L269.6,244.9 L269.8,245.0 L270.0,244.9 L270.2,244.9 L270.5,244.9 L270.7,244.9 L270.9,244.9 L271.2,244.9 L271.4,245.0 L271.6,245.0 L271.8,245.0 L272.1,245.0 L272.3,245.0 L272.5,245.0 L272.8,245.0 L273.0,245.0 L273.2,245.0 L273.4,245.0 L273.7,245.0 L273.9,245.0 L274.1,245.0 L274.4,245.0 L274.6,245.1 L274.8,245.1 L275.0,245.2 L275.3,245.3 L275.5,245.4 L275.7,245.3 L276.0,245.3 L276.2,245.3 L276.4,245.3 L276.6,245.3 L276.9,245.2 L277.1,245.1 L277.3,245.1 L277.6,245.0 L277.8,245.0 L278.0,245.1 L278.2,245.1 L278.5,245.1 L278.7,245.1 L278.9,245.0 L279.1,245.0 L279.4,245.0 L279.6,244.9 L279.8,244.9 L280.1,244.9 L280.3,244.8 L280.5,244.8 L280.7,244.7 L281.0,244.6 L281.2,244.5 L281.4,244.4 L281.7,244.2 L281.9,244.0 L282.1,243.8 L282.3,243.5 L282.6,243.1 L282.8,242.6 L283.0,242.1 L283.3,241.6 L283.5,241.2 L283.7,240.8 L283.9,240.6 L284.0,240.6 L284.2,240.7 L284.4,240.9 L284.6,241.3 L284.9,241.8 L285.1,242.3 L285.3,242.7 L285.5,243.1 L285.8,243.5 L286.0,243.8 L286.2,244.1 L286.5,244.3 L286.7,244.4 L286.9,244.5 L287.1,244.6 L287.4,244.6 L287.6,244.7 L287.8,244.7 L288.1,244.8 L288.3,244.8 L288.5,244.9 L288.7,244.9 L289.0,244.9 L289.2,244.9 L289.4,244.9 L289.7,244.9 L289.9,244.8 L290.1,244.7 L290.3,244.6 L290.6,244.5 L290.8,244.3 L291.0,244.1 L291.3,243.8 L291.5,243.5 L291.7,243.1 L291.9,242.6 L292.2,242.0 L292.4,241.4 L292.6,240.9 L292.9,240.6 L293.0,240.5 L293.1,240.6 L293.3,240.8 L293.5,241.3 L293.8,242.0 L294.0,242.6 L294.2,243.1 L294.4,243.6 L294.7,244.0 L294.9,244.3 L295.1,244.5 L295.4,244.7 L295.6,244.8 L295.8,244.9 L296.0,244.9 L296.3,244.9 L296.5,244.9 L296.7,245.0 L297.0,245.0 L297.2,245.1 L297.4,245.2 L297.6,245.2 L297.9,245.2 L298.1,245.2 L298.3,245.2 L298.6,245.2 L298.8,245.2 L299.0,245.2 L299.2,245.1 L299.5,245.1 L299.7,245.1 L299.9,245.1 L300.2,245.1 L300.4,245.1 L300.6,245.1 L300.8,245.1 L301.1,245.2 L301.3,245.2 L301.5,245.2 L301.8,245.2 L302.0,245.2 L302.2,245.2 L302.4,245.3 L302.7,245.2 L302.9,245.2 L303.1,245.2 L303.4,245.2 L303.6,245.2 L303.8,245.2 L304.0,245.2 L304.3,245.2 L304.5,245.3 L304.7,245.2 L305.0,245.2 L305.2,245.2 L305.4,245.2 L305.6,245.1 L305.9,245.1 L306.1,245.1 L306.3,245.1 L306.6,245.1 L306.8,245.1 L307.0,245.1 L307.2,245.1 L307.5,245.1 L307.7,245.1 L307.9,245.1 L308.2,245.1 L308.4,245.1 L308.6,245.1 L308.8,245.0 L309.1,244.9 L309.3,244.8 L309.5,244.7 L309.7,244.6 L310.0,244.6 L310.2,244.5 L310.4,244.3 L310.7,244.1 L310.9,243.9 L311.1,243.6 L311.3,243.4 L311.6,243.1 L311.8,243.0 L312.0,242.8 L312.2,242.8 L312.3,242.9 L312.5,243.0 L312.7,243.2 L312.9,243.4 L313.2,243.7 L313.4,244.0 L313.6,244.2 L313.9,244.3 L314.1,244.5 L314.3,244.6 L314.5,244.7 L314.8,244.8 L315.0,244.9 L315.2,245.0 L315.5,245.1 L315.7,245.1 L315.9,245.1 L316.1,245.1 L316.4,245.2 L316.6,245.1 L316.8,245.1 L317.1,245.1 L317.3,245.0 L317.5,245.0 L317.7,245.0 L318.0,245.0 L318.2,245.1 L318.4,245.1 L318.7,245.1 L318.9,245.0 L319.1,245.0 L319.3,245.0 L319.6,245.0 L319.8,245.0 L320.0,245.1 L320.3,245.1 L320.5,245.2 L320.7,245.1 L320.9,245.1 L321.2,245.1 L321.4,245.0 L321.6,245.0 L321.9,245.0 L322.1,245.0 L322.3,244.9 L322.5,244.8 L322.8,244.7 L323.0,244.6 L323.2,244.4 L323.5,244.2 L323.7,243.9 L323.9,243.6 L324.1,243.3 L324.4,243.0 L324.6,242.7 L324.8,242.4 L325.0,242.3 L325.1,242.3 L325.3,242.4 L325.5,242.6 L325.7,242.8 L326.0,243.1 L326.2,243.4 L326.4,243.7 L326.6,244.0 L326.9,244.1 L327.1,244.3 L327.3,244.4 L327.6,244.5 L327.8,244.7 L328.0,244.8 L328.2,244.9 L328.5,245.0 L328.7,245.0 L328.9,244.9 L329.2,244.9 L329.4,244.9 L329.6,244.9 L329.8,244.9 L330.1,244.9 L330.3,245.0 L330.5,245.0 L330.8,245.0 L331.0,245.1 L331.2,245.2 L331.4,245.2 L331.7,245.2 L331.9,245.1 L332.1,245.1 L332.4,245.0 L332.6,245.0 L332.8,245.0 L333.0,245.0 L333.3,245.0 L333.5,245.0 L333.7,245.0 L334.0,245.0 L334.2,245.0 L334.4,245.0 L334.6,245.1 L334.9,245.1 L335.1,245.2 L335.3,245.3 L335.6,245.3 L335.8,245.2 L336.0,245.2 L336.2,245.1 L336.5,245.1 L336.7,245.1 L336.9,245.0 L337.2,245.0 L337.4,245.0 L337.6,245.0 L337.8,245.1 L338.1,245.2 L338.3,245.2 L338.5,245.3 L338.8,245.2 L339.0,245.2 L339.2,245.1 L339.4,245.1 L339.7,245.1 L339.9,245.2 L340.1,245.2 L340.3,245.3 L340.6,245.3 L340.8,245.3 L341.0,245.3 L341.3,245.3 L341.5,245.3 L341.7,245.3 L341.9,245.3 L342.2,245.3 L342.4,245.3 L342.6,245.3 L342.9,245.3 L343.1,245.3 L343.3,245.3 L343.5,245.3 L343.8,245.3 L344.0,245.3 L344.2,245.3 L344.5,245.2 L344.7,245.2 L344.9,245.2 L345.1,245.3 L345.4,245.3 L345.6,245.3 L345.8,245.2 L346.1,245.1 L346.3,245.1 L346.5,245.0 L346.7,245.1 L347.0,245.1 L347.2,245.2" class="tr" stroke="#d0101a"/>
<path d="M405.0,124.1 L405.2,124.1 L405.5,124.1 L405.7,124.1 L405.9,124.1 L406.1,124.1 L406.4,124.1 L406.6,124.1 L406.8,124.1 L407.1,124.1 L407.3,124.1 L407.5,124.1 L407.7,124.1 L408.0,124.1 L408.2,124.1 L408.4,124.0 L408.6,124.0 L408.9,124.0 L409.1,124.0 L409.3,124.1 L409.6,124.1 L409.8,124.1 L410.0,124.1 L410.2,124.2 L410.5,124.2 L410.7,124.3 L410.9,124.3 L411.2,124.3 L411.4,124.3 L411.6,124.3 L411.8,124.3 L412.1,124.3 L412.3,124.3 L412.5,124.3 L412.8,124.3 L413.0,124.3 L413.2,124.2 L413.4,124.2 L413.7,124.1 L413.9,124.1 L414.1,124.1 L414.3,124.1 L414.6,124.1 L414.8,124.1 L415.0,124.2 L415.3,124.1 L415.5,124.1 L415.7,124.1 L415.9,124.1 L416.2,124.1 L416.4,124.0 L416.6,124.0 L416.9,124.0 L417.1,124.0 L417.3,124.0 L417.5,124.0 L417.8,124.0 L418.0,124.0 L418.2,124.0 L418.5,124.0 L418.7,124.0 L418.9,124.0 L419.1,124.1 L419.4,124.1 L419.6,124.2 L419.8,124.2 L420.0,124.3 L420.3,124.3 L420.5,124.3 L420.7,124.2 L421.0,124.2 L421.2,124.2 L421.4,124.2 L421.6,124.2 L421.9,124.2 L422.1,124.2 L422.3,124.2 L422.6,124.2 L422.8,124.2 L423.0,124.2 L423.2,124.2 L423.5,124.1 L423.7,124.1 L423.9,124.0 L424.2,124.0 L424.4,124.0 L424.6,124.0 L424.8,124.0 L425.1,124.0 L425.3,124.1 L425.5,124.1 L425.7,124.1 L426.0,124.1 L426.2,124.1 L426.4,124.2 L426.7,124.2 L426.9,124.2 L427.1,124.2 L427.3,124.2 L427.6,124.2 L427.8,124.2 L428.0,124.2 L428.3,124.2 L428.5,124.2 L428.7,124.2 L428.9,124.2 L429.2,124.2 L429.4,124.1 L429.6,124.0 L429.9,124.0 L430.1,123.9 L430.3,124.0 L430.5,124.0 L430.8,124.1 L431.0,124.1 L431.2,124.1 L431.4,124.1 L431.7,124.1 L431.9,124.1 L432.1,124.1 L432.4,124.1 L432.6,124.1 L432.8,124.1 L433.0,124.1 L433.3,124.0 L433.5,124.0 L433.7,124.0 L434.0,123.9 L434.2,124.0 L434.4,124.0 L434.6,124.0 L434.9,124.0 L435.1,124.0 L435.3,124.0 L435.6,124.0 L435.8,123.9 L436.0,123.9 L436.2,124.0 L436.5,124.0 L436.7,124.1 L436.9,124.2 L437.1,124.2 L437.4,124.2 L437.6,124.2 L437.8,124.2 L438.1,124.2 L438.3,124.1 L438.5,124.1 L438.7,124.1 L439.0,124.0 L439.2,124.0 L439.4,124.0 L439.7,124.0 L439.9,124.0 L440.1,124.0 L440.3,124.0 L440.6,124.1 L440.8,124.1 L441.0,124.2 L441.3,124.1 L441.5,124.1 L441.7,124.1 L441.9,124.0 L442.2,124.1 L442.4,124.1 L442.6,124.1 L442.8,124.1 L443.1,124.1 L443.3,124.1 L443.5,124.1 L443.8,124.1 L444.0,124.1 L444.2,124.1 L444.4,124.1 L444.7,124.0 L444.9,124.0 L445.1,124.0 L445.4,124.0 L445.6,124.0 L445.8,124.0 L446.0,124.0 L446.3,124.0 L446.5,124.0 L446.7,124.0 L447.0,124.0 L447.2,124.0 L447.4,124.0 L447.6,124.0 L447.9,124.0 L448.1,123.9 L448.3,123.9 L448.5,123.9 L448.8,123.9 L449.0,123.9 L449.2,123.9 L449.5,123.9 L449.7,123.9 L449.9,123.9 L450.1,123.9 L450.4,124.0 L450.6,124.0 L450.8,124.0 L451.1,124.1 L451.3,124.0 L451.5,123.9 L451.7,123.9 L452.0,123.8 L452.2,123.8 L452.4,123.8 L452.7,123.8 L452.9,123.8 L453.1,123.8 L453.3,123.9 L453.6,123.9 L453.8,124.0 L454.0,124.0 L454.2,124.0 L454.5,123.9 L454.7,123.9 L454.9,123.9 L455.2,123.9 L455.4,123.9 L455.6,123.9 L455.8,123.9 L456.1,123.9 L456.3,123.9 L456.5,123.9 L456.8,123.9 L457.0,123.9 L457.2,123.9 L457.4,123.9 L457.7,123.9 L457.9,123.9 L458.1,123.9 L458.4,124.0 L458.6,124.0 L458.8,124.1 L459.0,124.1 L459.3,124.0 L459.5,124.0 L459.7,123.9 L459.9,123.8 L460.2,123.8 L460.4,123.8 L460.6,123.9 L460.9,123.9 L461.1,123.9 L461.3,123.9 L461.5,123.8 L461.8,123.8 L462.0,123.8 L462.2,123.8 L462.5,123.9 L462.7,123.9 L462.9,123.9 L463.1,123.9 L463.4,123.9 L463.6,123.9 L463.8,123.8 L464.1,123.8 L464.3,123.8 L464.5,123.8 L464.7,123.8 L465.0,123.8 L465.2,123.9 L465.4,123.9 L465.6,123.9 L465.9,124.0 L466.1,124.0 L466.3,123.9 L466.6,123.9 L466.8,123.9 L467.0,123.8 L467.2,123.8 L467.5,123.9 L467.7,123.9 L467.9,123.9 L468.2,123.9 L468.4,123.9 L468.6,124.0 L468.8,124.0 L469.1,124.0 L469.3,123.9 L469.5,123.9 L469.8,123.8 L470.0,123.7 L470.2,123.7 L470.4,123.7 L470.7,123.7 L470.9,123.7 L471.1,123.7 L471.3,123.7 L471.6,123.7 L471.8,123.7 L472.0,123.8 L472.3,123.8 L472.5,123.9 L472.7,123.9 L472.9,123.9 L473.2,123.9 L473.4,123.9 L473.6,123.9 L473.9,123.9 L474.1,123.9 L474.3,123.8 L474.5,123.8 L474.8,123.8 L475.0,123.7 L475.2,123.8 L475.5,123.8 L475.7,123.8 L475.9,123.8 L476.1,123.8 L476.4,123.8 L476.6,123.7 L476.8,123.7 L477.0,123.7 L477.3,123.7 L477.5,123.8 L477.7,123.8 L478.0,123.8 L478.2,123.8 L478.4,123.7 L478.6,123.7 L478.9,123.7 L479.1,123.7 L479.3,123.7 L479.6,123.8 L479.8,123.8 L480.0,123.9 L480.2,123.9 L480.5,123.9 L480.7,123.9 L480.9,123.9 L481.2,124.0 L481.4,124.0 L481.6,124.0 L481.8,124.0 L482.1,124.0 L482.3,123.9 L482.5,123.9 L482.7,123.9 L483.0,123.9 L483.2,123.9 L483.4,123.9 L483.7,123.9 L483.9,124.0 L484.1,123.9 L484.3,123.8 L484.6,123.8 L484.8,123.7 L485.0,123.6 L485.3,123.6 L485.5,123.7 L485.7,123.7 L485.9,123.7 L486.2,123.7 L486.4,123.8 L486.6,123.9 L486.9,123.9 L487.1,123.9 L487.3,123.9 L487.5,123.9 L487.8,123.9 L488.0,123.9 L488.2,123.8 L488.4,123.8 L488.7,123.8 L488.9,123.7 L489.1,123.8 L489.4,123.8 L489.6,123.8 L489.8,123.9 L490.0,123.9 L490.3,123.9 L490.5,123.9 L490.7,123.8 L491.0,123.8 L491.2,123.8 L491.4,123.8 L491.6,123.8 L491.9,123.9 L492.1,123.8 L492.3,123.8 L492.6,123.8 L492.8,123.7 L493.0,123.7 L493.2,123.7 L493.5,123.7 L493.7,123.6 L493.9,123.6 L494.1,123.6 L494.4,123.7 L494.6,123.7 L494.8,123.7 L495.1,123.7 L495.3,123.7 L495.5,123.7 L495.7,123.6 L496.0,123.6 L496.2,123.6 L496.4,123.6 L496.7,123.7 L496.9,123.7 L497.1,123.7 L497.3,123.8 L497.6,123.8 L497.8,123.8 L498.0,123.9 L498.3,123.8 L498.5,123.8 L498.7,123.7 L498.9,123.7 L499.2,123.6 L499.4,123.6 L499.6,123.6 L499.8,123.6 L500.1,123.5 L500.3,123.5 L500.5,123.5 L500.8,123.5 L501.0,123.5 L501.2,123.5 L501.4,123.6 L501.7,123.6 L501.9,123.6 L502.1,123.6 L502.4,123.7 L502.6,123.7 L502.8,123.8 L503.0,123.8 L503.3,123.8 L503.5,123.7 L503.7,123.7 L504.0,123.6 L504.2,123.6 L504.4,123.6 L504.6,123.6 L504.9,123.6 L505.1,123.6 L505.3,123.6 L505.5,123.6 L505.8,123.5 L506.0,123.5 L506.2,123.6 L506.5,123.7 L506.7,123.7 L506.9,123.8 L507.1,123.8 L507.4,123.8 L507.6,123.7 L507.8,123.7 L508.1,123.6 L508.3,123.6 L508.5,123.6 L508.7,123.6 L509.0,123.6 L509.2,123.5 L509.4,123.5 L509.7,123.5 L509.9,123.5 L510.1,123.5 L510.3,123.5 L510.6,123.5 L510.8,123.5 L511.0,123.5 L511.2,123.5 L511.5,123.5 L511.7,123.5 L511.9,123.5 L512.2,123.5 L512.4,123.6 L512.6,123.6 L512.8,123.7 L513.1,123.7 L513.3,123.6 L513.5,123.6 L513.8,123.5 L514.0,123.5 L514.2,123.5 L514.4,123.5 L514.7,123.5 L514.9,123.5 L515.1,123.5 L515.4,123.5 L515.6,123.5 L515.8,123.6 L516.0,123.6 L516.3,123.6 L516.5,123.6 L516.7,123.5 L516.9,123.5 L517.2,123.6 L517.4,123.6 L517.6,123.7 L517.9,123.7 L518.1,123.8 L518.3,123.7 L518.5,123.6 L518.8,123.5 L519.0,123.5 L519.2,123.5 L519.5,123.5 L519.7,123.6 L519.9,123.6 L520.1,123.6 L520.4,123.6 L520.6,123.6 L520.8,123.7 L521.1,123.7 L521.3,123.6 L521.5,123.6 L521.7,123.6 L522.0,123.5 L522.2,123.6 L522.4,123.6 L522.6,123.7 L522.9,123.7 L523.1,123.7 L523.3,123.7 L523.6,123.6 L523.8,123.6 L524.0,123.5 L524.2,123.5 L524.5,123.5 L524.7,123.5 L524.9,123.5 L525.2,123.5 L525.4,123.5 L525.6,123.5 L525.8,123.5 L526.1,123.5 L526.3,123.5 L526.5,123.4 L526.8,123.4 L527.0,123.4 L527.2,123.4 L527.4,123.4 L527.7,123.5 L527.9,123.5 L528.1,123.5 L528.3,123.5 L528.6,123.5 L528.8,123.4 L529.0,123.4 L529.3,123.5 L529.5,123.5 L529.7,123.6 L529.9,123.6 L530.2,123.6 L530.4,123.6 L530.6,123.6 L530.9,123.6 L531.1,123.6 L531.3,123.6 L531.5,123.5 L531.8,123.5 L532.0,123.5 L532.2,123.4 L532.5,123.4 L532.7,123.4 L532.9,123.3 L533.1,123.3 L533.4,123.3 L533.6,123.3 L533.8,123.4 L534.0,123.4 L534.3,123.4 L534.5,123.4 L534.7,123.4 L535.0,123.4 L535.2,123.3 L535.4,123.3 L535.6,123.3 L535.9,123.3 L536.1,123.3 L536.3,123.3 L536.6,123.3 L536.8,123.3 L537.0,123.3 L537.2,123.4 L537.5,123.4 L537.7,123.5 L537.9,123.5 L538.2,123.5 L538.4,123.4 L538.6,123.4 L538.8,123.3 L539.1,123.2 L539.3,123.2 L539.5,123.2 L539.7,123.2 L540.0,123.2 L540.2,123.3 L540.4,123.3 L540.7,123.4 L540.9,123.5 L541.1,123.5 L541.3,123.4 L541.6,123.4 L541.8,123.4 L542.0,123.3 L542.3,123.4 L542.5,123.4 L542.7,123.4 L542.9,123.4 L543.2,123.4 L543.4,123.3 L543.6,123.3 L543.9,123.2 L544.1,123.2 L544.3,123.2 L544.5,123.3 L544.8,123.3 L545.0,123.3 L545.2,123.3 L545.4,123.2 L545.7,123.2 L545.9,123.2 L546.1,123.2 L546.4,123.1 L546.6,123.1 L546.8,123.1 L547.0,123.1 L547.3,123.1 L547.5,123.1 L547.7,123.0 L548.0,123.0 L548.2,123.0 L548.4,122.9 L548.6,122.8 L548.9,122.8 L549.1,122.7 L549.3,122.6 L549.6,122.6 L549.8,122.5 L550.0,122.4 L550.2,122.3 L550.5,122.3 L550.7,122.2 L550.9,122.1 L551.1,122.1 L551.4,122.1 L551.6,122.0 L551.8,121.9 L552.1,121.8 L552.3,121.7 L552.5,121.5 L552.7,121.3 L553.0,121.1 L553.2,120.8 L553.4,120.5 L553.7,120.2 L553.9,119.8 L554.1,119.3 L554.3,118.6 L554.6,117.9 L554.8,117.0 L555.0,115.9 L555.3,114.5 L555.5,112.6 L555.7,109.4 L555.9,103.6 L556.2,92.8 L556.4,75.1 L556.6,53.0 L556.8,40.9 L557.1,53.0 L557.3,75.1 L557.5,92.8 L557.8,103.6 L558.0,109.4 L558.2,112.6 L558.4,114.6 L558.7,116.0 L558.9,117.1 L559.1,117.9 L559.4,118.6 L559.6,119.1 L559.8,119.6 L560.0,120.0 L560.3,120.4 L560.5,120.7 L560.7,120.9 L561.0,121.2 L561.2,121.4 L561.4,121.5 L561.6,121.7 L561.9,121.8 L562.1,121.9 L562.3,122.0 L562.5,122.1 L562.8,122.1 L563.0,122.2 L563.2,122.3 L563.5,122.4 L563.7,122.5 L563.9,122.6 L564.1,122.7 L564.4,122.8 L564.6,122.8 L564.8,122.8 L565.1,122.9 L565.3,122.8 L565.5,122.8 L565.7,122.7 L566.0,122.7 L566.2,122.8 L566.4,122.9 L566.7,122.9 L566.9,123.0 L567.1,123.1 L567.3,123.1 L567.6,123.1 L567.8,123.1 L568.0,123.2 L568.2,123.1 L568.5,123.1 L568.7,123.1 L568.9,123.1 L569.2,123.1 L569.4,123.0 L569.6,123.0 L569.8,122.9 L570.1,122.9 L570.3,123.0 L570.5,123.1 L570.8,123.2 L571.0,123.2 L571.2,123.2 L571.4,123.1 L571.7,123.1 L571.9,123.0 L572.1,123.0 L572.4,123.1 L572.6,123.2 L572.8,123.2 L573.0,123.3 L573.3,123.3 L573.5,123.2 L573.7,123.2 L573.9,123.2 L574.2,123.2 L574.4,123.1 L574.6,123.1 L574.9,123.0 L575.1,123.0 L575.3,123.0 L575.5,123.0 L575.8,123.0 L576.0,123.0 L576.2,123.0 L576.5,123.1 L576.7,123.1 L576.9,123.2 L577.1,123.2 L577.4,123.2 L577.6,123.1 L577.8,123.1 L578.1,123.1 L578.3,123.1 L578.5,123.2 L578.7,123.2 L579.0,123.2 L579.2,123.2 L579.4,123.2 L579.6,123.2 L579.9,123.2 L580.1,123.2 L580.3,123.1 L580.6,123.0 L580.8,123.0 L581.0,122.9 L581.2,122.9 L581.5,122.9 L581.7,122.8 L581.9,122.8 L582.2,122.8 L582.4,122.9 L582.6,122.9 L582.8,123.0 L583.1,123.0 L583.3,122.9 L583.5,122.8 L583.8,122.7 L584.0,122.6 L584.2,122.6 L584.4,122.6 L584.7,122.6 L584.9,122.6 L585.1,122.6 L585.3,122.4 L585.6,122.3 L585.8,122.1 L586.0,121.9 L586.3,121.8 L586.5,121.7 L586.7,121.6 L586.9,121.4 L587.2,121.1 L587.4,120.7 L587.6,120.1 L587.9,119.3 L588.1,117.9 L588.3,115.6 L588.5,111.9 L588.8,106.7 L589.0,101.0 L589.2,98.3 L589.5,101.0 L589.7,106.6 L589.9,111.8 L590.1,115.5 L590.4,117.9 L590.6,119.3 L590.8,120.1 L591.0,120.7 L591.3,121.0 L591.5,121.3 L591.7,121.5 L592.0,121.6 L592.2,121.8 L592.4,122.0 L592.6,122.2 L592.9,122.3 L593.1,122.4 L593.3,122.5 L593.6,122.5 L593.8,122.5 L594.0,122.6 L594.2,122.7 L594.5,122.7 L594.7,122.8 L594.9,122.9 L595.2,122.9 L595.4,123.0 L595.6,123.0 L595.8,123.0 L596.1,123.0 L596.3,123.0 L596.5,123.0 L596.7,123.0 L597.0,123.0 L597.2,123.0 L597.4,123.0 L597.7,123.0 L597.9,123.0 L598.1,123.0 L598.3,123.0 L598.6,122.9 L598.8,122.9 L599.0,122.9 L599.3,122.9 L599.5,122.9 L599.7,122.9 L599.9,122.9 L600.2,122.9 L600.4,123.0 L600.6,123.0 L600.9,123.1 L601.1,123.1 L601.3,123.1 L601.5,123.1 L601.8,123.1 L602.0,123.1 L602.2,123.1 L602.4,123.2 L602.7,123.2 L602.9,123.2 L603.1,123.2 L603.4,123.2 L603.6,123.2 L603.8,123.2 L604.0,123.1 L604.3,123.1 L604.5,123.1 L604.7,123.0 L605.0,123.0 L605.2,123.0 L605.4,123.0 L605.6,123.0 L605.9,123.1 L606.1,123.1 L606.3,123.1 L606.6,123.2 L606.8,123.2 L607.0,123.2 L607.2,123.2 L607.5,123.2 L607.7,123.2 L607.9,123.1 L608.1,123.1 L608.4,123.1 L608.6,123.0 L608.8,123.0 L609.1,123.0 L609.3,123.0 L609.5,123.1 L609.7,123.2 L610.0,123.2 L610.2,123.2 L610.4,123.2 L610.7,123.2 L610.9,123.2 L611.1,123.2 L611.3,123.1 L611.6,123.1 L611.8,123.0 L612.0,123.0 L612.3,123.0 L612.5,123.0 L612.7,123.1 L612.9,123.1 L613.2,123.1 L613.4,123.1 L613.6,123.1 L613.8,123.1 L614.1,123.1 L614.3,123.1 L614.5,123.1 L614.8,123.2 L615.0,123.2 L615.2,123.2 L615.4,123.1 L615.7,123.1 L615.9,123.1 L616.1,123.0 L616.4,123.0 L616.6,123.0 L616.8,123.0 L617.0,123.0 L617.3,123.0 L617.5,123.1 L617.7,123.1 L618.0,123.1 L618.2,123.1 L618.4,123.2 L618.6,123.2 L618.9,123.2 L619.1,123.2 L619.3,123.2 L619.5,123.1 L619.8,123.0 L620.0,122.9 L620.2,123.0 L620.5,123.0 L620.7,123.0 L620.9,123.0 L621.1,123.0 L621.4,123.0 L621.6,123.1 L621.8,123.1 L622.1,123.1 L622.3,123.2 L622.5,123.2 L622.7,123.2 L623.0,123.2 L623.2,123.2 L623.4,123.2 L623.7,123.1 L623.9,123.1 L624.1,123.1 L624.3,123.1 L624.6,123.1 L624.8,123.1 L625.0,123.1 L625.2,123.1 L625.5,123.1 L625.7,123.2 L625.9,123.2 L626.2,123.2 L626.4,123.2 L626.6,123.2 L626.8,123.2 L627.1,123.1 L627.3,123.1 L627.5,123.0 L627.8,123.0 L628.0,122.9 L628.2,123.0 L628.4,123.0 L628.7,123.1 L628.9,123.2 L629.1,123.2 L629.4,123.1 L629.6,123.1 L629.8,123.0 L630.0,122.9 L630.3,123.0 L630.5,123.0 L630.7,123.0 L630.9,123.0 L631.2,123.0 L631.4,123.1 L631.6,123.1 L631.9,123.1 L632.1,123.2 L632.3,123.1 L632.5,123.1 L632.8,123.0 L633.0,123.0 L633.2,123.0 L633.5,123.1 L633.7,123.1 L633.9,123.1 L634.1,123.1 L634.4,123.1 L634.6,123.0 L634.8,123.0 L635.1,122.9 L635.3,123.0 L635.5,123.0 L635.7,123.1 L636.0,123.2 L636.2,123.1 L636.4,123.1 L636.6,123.0 L636.9,122.9 L637.1,122.9 L637.3,122.9 L637.6,122.9 L637.8,122.9 L638.0,122.9 L638.2,122.9 L638.5,122.9 L638.7,123.0 L638.9,123.0 L639.2,123.0 L639.4,123.0 L639.6,123.0 L639.8,123.0 L640.1,123.0 L640.3,123.0 L640.5,123.0 L640.8,123.0 L641.0,123.0 L641.2,123.0 L641.4,123.1 L641.7,123.1 L641.9,123.1 L642.1,123.1 L642.3,123.1 L642.6,123.1 L642.8,123.1 L643.0,123.1 L643.3,123.0 L643.5,122.9 L643.7,122.9 L643.9,122.8 L644.2,122.8 L644.4,122.9 L644.6,122.9 L644.9,122.9 L645.1,122.9 L645.3,122.9 L645.5,123.0 L645.8,123.0 L646.0,123.0 L646.2,123.0 L646.5,123.0 L646.7,123.0 L646.9,123.0 L647.1,123.0 L647.4,123.0 L647.6,123.0 L647.8,123.0 L648.0,123.0 L648.3,123.0 L648.5,123.0 L648.7,123.0 L649.0,123.0 L649.2,122.9 L649.4,122.9 L649.6,122.9 L649.9,122.8 L650.1,122.8 L650.3,122.8 L650.6,122.8 L650.8,122.9 L651.0,122.9 L651.2,122.9 L651.5,123.0 L651.7,123.0 L651.9,123.1 L652.2,123.0 L652.4,123.0 L652.6,123.0 L652.8,122.9 L653.1,122.9 L653.3,122.9 L653.5,123.0 L653.7,123.0 L654.0,123.0 L654.2,123.1 L654.4,123.1 L654.7,123.1 L654.9,123.1 L655.1,123.1 L655.3,123.1 L655.6,123.0 L655.8,123.0 L656.0,123.0 L656.3,123.0 L656.5,123.0 L656.7,123.0 L656.9,123.0 L657.2,123.0 L657.4,123.0 L657.6,123.0 L657.9,123.0 L658.1,123.0 L658.3,122.9 L658.5,122.9 L658.8,122.9 L659.0,122.8 L659.2,122.9 L659.4,122.9 L659.7,123.0 L659.9,123.0 L660.1,123.0 L660.4,123.0 L660.6,123.0 L660.8,122.9 L661.0,122.9 L661.3,122.9 L661.5,123.0 L661.7,123.0 L662.0,123.0 L662.2,123.0 L662.4,123.0 L662.6,122.9 L662.9,122.9 L663.1,122.8 L663.3,122.9 L663.6,122.9 L663.8,123.0 L664.0,123.0 L664.2,123.0 L664.5,123.0 L664.7,123.0 L664.9,123.0 L665.1,123.0 L665.4,123.0 L665.6,122.9 L665.8,122.9 L666.1,122.9 L666.3,122.9 L666.5,122.9 L666.7,122.9 L667.0,122.9 L667.2,122.8 L667.4,122.8 L667.7,122.8 L667.9,122.8 L668.1,122.8 L668.3,122.8 L668.6,122.9 L668.8,122.9 L669.0,123.0 L669.3,122.9 L669.5,122.9 L669.7,122.9 L669.9,122.8 L670.2,122.8 L670.4,122.8 L670.6,122.9 L670.8,122.9 L671.1,122.9 L671.3,122.9 L671.5,122.8 L671.8,122.8 L672.0,122.7 L672.2,122.7 L672.4,122.7 L672.7,122.7 L672.9,122.7 L673.1,122.7 L673.4,122.7 L673.6,122.7 L673.8,122.7 L674.0,122.7 L674.3,122.8 L674.5,122.8 L674.7,122.9 L675.0,122.9 L675.2,122.9 L675.4,122.8 L675.6,122.8 L675.9,122.7 L676.1,122.7 L676.3,122.8 L676.5,122.8 L676.8,122.9 L677.0,123.0 L677.2,122.9 L677.5,122.9 L677.7,122.8 L677.9,122.8 L678.1,122.8 L678.4,122.8 L678.6,122.8 L678.8,122.8 L679.1,122.8 L679.3,122.8 L679.5,122.8 L679.7,122.8 L680.0,122.7 L680.2,122.8 L680.4,122.8 L680.7,122.8 L680.9,122.8 L681.1,122.8 L681.3,122.8 L681.6,122.7 L681.8,122.7 L682.0,122.6 L682.2,122.7 L682.5,122.7 L682.7,122.7 L682.9,122.7 L683.2,122.8 L683.4,122.8 L683.6,122.8 L683.8,122.9 L684.1,122.9 L684.3,122.8 L684.5,122.8 L684.8,122.7 L685.0,122.6 L685.2,122.7 L685.4,122.7 L685.7,122.7 L685.9,122.8 L686.1,122.8 L686.4,122.7 L686.6,122.7 L686.8,122.7 L687.0,122.6 L687.3,122.6 L687.5,122.6 L687.7,122.6 L687.9,122.6 L688.2,122.6 L688.4,122.6 L688.6,122.5 L688.9,122.5 L689.1,122.5 L689.3,122.5 L689.5,122.5 L689.8,122.5 L690.0,122.4 L690.2,122.5 L690.5,122.6 L690.7,122.6 L690.9,122.7 L691.1,122.7 L691.4,122.7 L691.6,122.6 L691.8,122.6 L692.1,122.6 L692.3,122.6 L692.5,122.5 L692.7,122.5 L693.0,122.5 L693.2,122.4 L693.4,122.4 L693.6,122.3 L693.9,122.2 L694.1,122.2 L694.3,122.1 L694.6,122.0 L694.8,121.9 L695.0,121.7 L695.2,121.4 L695.5,121.1 L695.7,120.5 L695.9,119.8 L696.2,118.9 L696.4,117.6 L696.6,116.0 L696.8,114.2 L697.1,112.7 L697.3,112.0 L697.5,112.7 L697.8,114.2 L698.0,116.0 L698.2,117.7 L698.4,119.0 L698.7,119.9 L698.9,120.6 L699.1,121.1 L699.3,121.4 L699.6,121.6 L699.8,121.8 L700.0,122.0 L700.3,122.1 L700.5,122.2 L700.7,122.2 L700.9,122.3 L701.2,122.3 L701.4,122.4 L701.6,122.4 L701.9,122.5 L702.1,122.5 L702.3,122.5 L702.5,122.4 L702.8,122.4 L703.0,122.3 L703.2,122.4 L703.5,122.4 L703.7,122.5 L703.9,122.6 L704.1,122.6 L704.4,122.6 L704.6,122.6 L704.8,122.6 L705.0,122.6 L705.3,122.6 L705.5,122.6 L705.7,122.7 L706.0,122.7 L706.2,122.7 L706.4,122.7 L706.6,122.7 L706.9,122.6 L707.1,122.6 L707.3,122.7 L707.6,122.7 L707.8,122.7 L708.0,122.7 L708.2,122.7 L708.5,122.6 L708.7,122.6 L708.9,122.6 L709.2,122.6 L709.4,122.6 L709.6,122.7 L709.8,122.7 L710.1,122.8 L710.3,122.7 L710.5,122.7 L710.7,122.6 L711.0,122.6 L711.2,122.6 L711.4,122.6 L711.7,122.6 L711.9,122.7 L712.1,122.7 L712.3,122.7 L712.6,122.7 L712.8,122.7 L713.0,122.8 L713.3,122.7 L713.5,122.7 L713.7,122.7 L713.9,122.7 L714.2,122.7 L714.4,122.6 L714.6,122.6 L714.9,122.6 L715.1,122.5 L715.3,122.5 L715.5,122.5 L715.8,122.5 L716.0,122.5 L716.2,122.5 L716.4,122.5 L716.7,122.5 L716.9,122.5 L717.1,122.6 L717.4,122.6 L717.6,122.6 L717.8,122.6 L718.0,122.7 L718.3,122.7 L718.5,122.7 L718.7,122.8 L719.0,122.8 L719.2,122.8 L719.4,122.8 L719.6,122.8 L719.9,122.8 L720.1,122.7 L720.3,122.7 L720.6,122.6 L720.8,122.6 L721.0,122.6 L721.2,122.6 L721.5,122.6 L721.7,122.6 L721.9,122.6 L722.1,122.6 L722.4,122.6 L722.6,122.7 L722.8,122.7 L723.1,122.7 L723.3,122.7 L723.5,122.6 L723.7,122.6 L724.0,122.5 L724.2,122.5" class="tr" stroke="#2f7212"/>
<path d="M405.0,185.6 L405.2,185.6 L405.5,185.7 L405.7,185.7 L405.9,185.7 L406.1,185.7 L406.4,185.7 L406.6,185.7 L406.8,185.7 L407.1,185.7 L407.3,185.7 L407.5,185.7 L407.7,185.7 L408.0,185.7 L408.2,185.7 L408.4,185.7 L408.6,185.7 L408.9,185.7 L409.1,185.7 L409.3,185.7 L409.6,185.7 L409.8,185.7 L410.0,185.7 L410.2,185.7 L410.5,185.6 L410.7,185.5 L410.9,185.4 L411.2,185.4 L411.4,185.5 L411.6,185.5 L411.8,185.5 L412.1,185.6 L412.3,185.6 L412.5,185.7 L412.8,185.7 L413.0,185.7 L413.2,185.7 L413.4,185.7 L413.7,185.7 L413.9,185.6 L414.1,185.6 L414.3,185.7 L414.6,185.7 L414.8,185.7 L415.0,185.7 L415.3,185.6 L415.5,185.6 L415.7,185.5 L415.9,185.4 L416.2,185.4 L416.4,185.5 L416.6,185.5 L416.9,185.5 L417.1,185.5 L417.3,185.5 L417.5,185.5 L417.8,185.5 L418.0,185.5 L418.2,185.5 L418.5,185.5 L418.7,185.5 L418.9,185.6 L419.1,185.6 L419.4,185.6 L419.6,185.6 L419.8,185.6 L420.0,185.6 L420.3,185.5 L420.5,185.5 L420.7,185.4 L421.0,185.4 L421.2,185.4 L421.4,185.4 L421.6,185.4 L421.9,185.4 L422.1,185.4 L422.3,185.5 L422.6,185.5 L422.8,185.5 L423.0,185.5 L423.2,185.5 L423.5,185.6 L423.7,185.6 L423.9,185.7 L424.2,185.7 L424.4,185.7 L424.6,185.7 L424.8,185.6 L425.1,185.6 L425.3,185.6 L425.5,185.5 L425.7,185.5 L426.0,185.4 L426.2,185.5 L426.4,185.5 L426.7,185.6 L426.9,185.6 L427.1,185.6 L427.3,185.6 L427.6,185.5 L427.8,185.4 L428.0,185.4 L428.3,185.4 L428.5,185.5 L428.7,185.5 L428.9,185.6 L429.2,185.5 L429.4,185.5 L429.6,185.5 L429.9,185.4 L430.1,185.4 L430.3,185.4 L430.5,185.4 L430.8,185.4 L431.0,185.3 L431.2,185.4 L431.4,185.5 L431.7,185.6 L431.9,185.6 L432.1,185.6 L432.4,185.6 L432.6,185.5 L432.8,185.5 L433.0,185.4 L433.3,185.4 L433.5,185.4 L433.7,185.4 L434.0,185.4 L434.2,185.5 L434.4,185.5 L434.6,185.6 L434.9,185.6 L435.1,185.7 L435.3,185.7 L435.6,185.7 L435.8,185.6 L436.0,185.6 L436.2,185.6 L436.5,185.5 L436.7,185.5 L436.9,185.4 L437.1,185.5 L437.4,185.5 L437.6,185.6 L437.8,185.6 L438.1,185.7 L438.3,185.6 L438.5,185.6 L438.7,185.6 L439.0,185.5 L439.2,185.5 L439.4,185.5 L439.7,185.5 L439.9,185.6 L440.1,185.5 L440.3,185.5 L440.6,185.5 L440.8,185.4 L441.0,185.4 L441.3,185.5 L441.5,185.5 L441.7,185.6 L441.9,185.6 L442.2,185.6 L442.4,185.6 L442.6,185.6 L442.8,185.6 L443.1,185.6 L443.3,185.6 L443.5,185.6 L443.8,185.6 L444.0,185.6 L444.2,185.6 L444.4,185.6 L444.7,185.6 L444.9,185.6 L445.1,185.6 L445.4,185.5 L445.6,185.5 L445.8,185.4 L446.0,185.4 L446.3,185.4 L446.5,185.4 L446.7,185.4 L447.0,185.4 L447.2,185.4 L447.4,185.4 L447.6,185.4 L447.9,185.4 L448.1,185.3 L448.3,185.3 L448.5,185.3 L448.8,185.3 L449.0,185.3 L449.2,185.3 L449.5,185.3 L449.7,185.3 L449.9,185.3 L450.1,185.3 L450.4,185.3 L450.6,185.4 L450.8,185.4 L451.1,185.4 L451.3,185.4 L451.5,185.4 L451.7,185.5 L452.0,185.5 L452.2,185.5 L452.4,185.4 L452.7,185.4 L452.9,185.3 L453.1,185.3 L453.3,185.4 L453.6,185.4 L453.8,185.5 L454.0,185.5 L454.2,185.5 L454.5,185.5 L454.7,185.4 L454.9,185.4 L455.2,185.4 L455.4,185.4 L455.6,185.4 L455.8,185.4 L456.1,185.4 L456.3,185.4 L456.5,185.5 L456.8,185.5 L457.0,185.6 L457.2,185.5 L457.4,185.5 L457.7,185.5 L457.9,185.4 L458.1,185.4 L458.4,185.4 L458.6,185.4 L458.8,185.4 L459.0,185.4 L459.3,185.4 L459.5,185.4 L459.7,185.4 L459.9,185.4 L460.2,185.4 L460.4,185.5 L460.6,185.5 L460.9,185.5 L461.1,185.5 L461.3,185.4 L461.5,185.4 L461.8,185.3 L462.0,185.3 L462.2,185.3 L462.5,185.4 L462.7,185.5 L462.9,185.6 L463.1,185.5 L463.4,185.5 L463.6,185.4 L463.8,185.3 L464.1,185.3 L464.3,185.3 L464.5,185.4 L464.7,185.4 L465.0,185.5 L465.2,185.5 L465.4,185.5 L465.6,185.5 L465.9,185.5 L466.1,185.5 L466.3,185.4 L466.6,185.4 L466.8,185.3 L467.0,185.2 L467.2,185.3 L467.5,185.4 L467.7,185.4 L467.9,185.5 L468.2,185.5 L468.4,185.5 L468.6,185.4 L468.8,185.4 L469.1,185.4 L469.3,185.4 L469.5,185.4 L469.8,185.4 L470.0,185.4 L470.2,185.4 L470.4,185.3 L470.7,185.3 L470.9,185.2 L471.1,185.2 L471.3,185.2 L471.6,185.2 L471.8,185.2 L472.0,185.2 L472.3,185.2 L472.5,185.3 L472.7,185.3 L472.9,185.3 L473.2,185.3 L473.4,185.4 L473.6,185.5 L473.9,185.5 L474.1,185.5 L474.3,185.5 L474.5,185.4 L474.8,185.3 L475.0,185.3 L475.2,185.3 L475.5,185.4 L475.7,185.4 L475.9,185.5 L476.1,185.5 L476.4,185.5 L476.6,185.5 L476.8,185.5 L477.0,185.5 L477.3,185.5 L477.5,185.5 L477.7,185.5 L478.0,185.5 L478.2,185.5 L478.4,185.4 L478.6,185.4 L478.9,185.3 L479.1,185.3 L479.3,185.3 L479.6,185.3 L479.8,185.3 L480.0,185.3 L480.2,185.3 L480.5,185.3 L480.7,185.4 L480.9,185.4 L481.2,185.4 L481.4,185.4 L481.6,185.4 L481.8,185.4 L482.1,185.4 L482.3,185.4 L482.5,185.3 L482.7,185.3 L483.0,185.2 L483.2,185.3 L483.4,185.3 L483.7,185.4 L483.9,185.4 L484.1,185.4 L484.3,185.5 L484.6,185.5 L484.8,185.5 L485.0,185.5 L485.3,185.5 L485.5,185.5 L485.7,185.5 L485.9,185.5 L486.2,185.4 L486.4,185.4 L486.6,185.3 L486.9,185.2 L487.1,185.2 L487.3,185.3 L487.5,185.4 L487.8,185.4 L488.0,185.5 L488.2,185.4 L488.4,185.4 L488.7,185.3 L488.9,185.2 L489.1,185.2 L489.4,185.2 L489.6,185.2 L489.8,185.3 L490.0,185.3 L490.3,185.3 L490.5,185.3 L490.7,185.3 L491.0,185.4 L491.2,185.4 L491.4,185.4 L491.6,185.4 L491.9,185.5 L492.1,185.5 L492.3,185.4 L492.6,185.4 L492.8,185.3 L493.0,185.3 L493.2,185.3 L493.5,185.4 L493.7,185.4 L493.9,185.5 L494.1,185.5 L494.4,185.4 L494.6,185.4 L494.8,185.4 L495.1,185.3 L495.3,185.3 L495.5,185.3 L495.7,185.3 L496.0,185.2 L496.2,185.2 L496.4,185.2 L496.7,185.2 L496.9,185.2 L497.1,185.2 L497.3,185.2 L497.6,185.2 L497.8,185.2 L498.0,185.2 L498.3,185.2 L498.5,185.2 L498.7,185.2 L498.9,185.1 L499.2,185.1 L499.4,185.2 L499.6,185.2 L499.8,185.2 L500.1,185.2 L500.3,185.2 L500.5,185.3 L500.8,185.3 L501.0,185.4 L501.2,185.4 L501.4,185.4 L501.7,185.4 L501.9,185.4 L502.1,185.4 L502.4,185.4 L502.6,185.3 L502.8,185.2 L503.0,185.2 L503.3,185.1 L503.5,185.1 L503.7,185.1 L504.0,185.1 L504.2,185.2 L504.4,185.2 L504.6,185.3 L504.9,185.4 L505.1,185.4 L505.3,185.4 L505.5,185.3 L505.8,185.3 L506.0,185.3 L506.2,185.3 L506.5,185.2 L506.7,185.2 L506.9,185.2 L507.1,185.2 L507.4,185.2 L507.6,185.2 L507.8,185.2 L508.1,185.2 L508.3,185.2 L508.5,185.2 L508.7,185.2 L509.0,185.3 L509.2,185.3 L509.4,185.3 L509.7,185.3 L509.9,185.3 L510.1,185.3 L510.3,185.3 L510.6,185.3 L510.8,185.2 L511.0,185.2 L511.2,185.2 L511.5,185.2 L511.7,185.2 L511.9,185.2 L512.2,185.2 L512.4,185.1 L512.6,185.1 L512.8,185.1 L513.1,185.1 L513.3,185.1 L513.5,185.2 L513.8,185.3 L514.0,185.3 L514.2,185.3 L514.4,185.2 L514.7,185.1 L514.9,185.0 L515.1,185.0 L515.4,185.0 L515.6,185.1 L515.8,185.1 L516.0,185.1 L516.3,185.2 L516.5,185.2 L516.7,185.2 L516.9,185.2 L517.2,185.2 L517.4,185.1 L517.6,185.0 L517.9,185.0 L518.1,184.9 L518.3,185.0 L518.5,185.0 L518.8,185.1 L519.0,185.1 L519.2,185.1 L519.5,185.1 L519.7,185.1 L519.9,185.1 L520.1,185.0 L520.4,185.0 L520.6,184.9 L520.8,184.8 L521.1,184.7 L521.3,184.7 L521.5,184.6 L521.7,184.6 L522.0,184.5 L522.2,184.4 L522.4,184.2 L522.6,184.0 L522.9,183.9 L523.1,183.7 L523.3,183.6 L523.6,183.5 L523.8,183.4 L524.0,183.2 L524.2,183.1 L524.5,182.9 L524.7,182.8 L524.9,182.7 L525.2,182.7 L525.4,182.7 L525.6,182.8 L525.8,182.9 L526.1,183.0 L526.3,183.0 L526.5,183.1 L526.8,183.2 L527.0,183.3 L527.2,183.5 L527.4,183.6 L527.7,183.8 L527.9,183.9 L528.1,184.1 L528.3,184.2 L528.6,184.4 L528.8,184.5 L529.0,184.6 L529.3,184.7 L529.5,184.7 L529.7,184.8 L529.9,184.8 L530.2,184.9 L530.4,184.9 L530.6,185.0 L530.9,185.0 L531.1,185.0 L531.3,185.0 L531.5,185.0 L531.8,184.9 L532.0,184.9 L532.2,184.9 L532.5,184.9 L532.7,184.9 L532.9,184.9 L533.1,185.0 L533.4,185.0 L533.6,185.0 L533.8,185.0 L534.0,185.1 L534.3,185.0 L534.5,185.0 L534.7,185.0 L535.0,185.0 L535.2,185.0 L535.4,184.9 L535.6,184.9 L535.9,184.9 L536.1,184.9 L536.3,184.9 L536.6,184.9 L536.8,184.9 L537.0,184.9 L537.2,184.9 L537.5,184.9 L537.7,184.9 L537.9,184.8 L538.2,184.8 L538.4,184.9 L538.6,184.9 L538.8,184.9 L539.1,184.9 L539.3,185.0 L539.5,185.0 L539.7,185.0 L540.0,185.1 L540.2,185.1 L540.4,185.1 L540.7,185.1 L540.9,185.1 L541.1,185.0 L541.3,185.0 L541.6,185.0 L541.8,184.9 L542.0,184.9 L542.3,184.9 L542.5,184.9 L542.7,184.8 L542.9,184.8 L543.2,184.8 L543.4,184.8 L543.6,184.7 L543.9,184.7 L544.1,184.7 L544.3,184.7 L544.5,184.6 L544.8,184.6 L545.0,184.5 L545.2,184.5 L545.4,184.5 L545.7,184.5 L545.9,184.5 L546.1,184.5 L546.4,184.6 L546.6,184.6 L546.8,184.6 L547.0,184.6 L547.3,184.6 L547.5,184.5 L547.7,184.5 L548.0,184.5 L548.2,184.4 L548.4,184.3 L548.6,184.2 L548.9,184.2 L549.1,184.1 L549.3,184.1 L549.6,184.0 L549.8,184.0 L550.0,184.0 L550.2,183.9 L550.5,183.8 L550.7,183.7 L550.9,183.6 L551.1,183.5 L551.4,183.4 L551.6,183.2 L551.8,183.1 L552.1,182.9 L552.3,182.8 L552.5,182.6 L552.7,182.4 L553.0,182.1 L553.2,181.9 L553.4,181.6 L553.7,181.3 L553.9,181.0 L554.1,180.6 L554.3,180.1 L554.6,179.6 L554.8,179.0 L555.0,178.4 L555.3,177.7 L555.5,176.8 L555.7,175.5 L555.9,173.3 L556.2,169.3 L556.4,162.9 L556.6,155.0 L556.8,150.7 L557.1,155.0 L557.3,162.9 L557.5,169.2 L557.8,173.2 L558.0,175.5 L558.2,176.8 L558.4,177.7 L558.7,178.5 L558.9,179.1 L559.1,179.7 L559.4,180.1 L559.6,180.6 L559.8,180.9 L560.0,181.3 L560.3,181.6 L560.5,181.8 L560.7,182.0 L561.0,182.2 L561.2,182.5 L561.4,182.7 L561.6,182.9 L561.9,183.1 L562.1,183.3 L562.3,183.4 L562.5,183.5 L562.8,183.6 L563.0,183.6 L563.2,183.7 L563.5,183.8 L563.7,183.9 L563.9,183.9 L564.1,184.0 L564.4,184.0 L564.6,184.0 L564.8,184.0 L565.1,184.0 L565.3,184.1 L565.5,184.2 L565.7,184.3 L566.0,184.3 L566.2,184.4 L566.4,184.4 L566.7,184.4 L566.9,184.4 L567.1,184.4 L567.3,184.5 L567.6,184.5 L567.8,184.6 L568.0,184.6 L568.2,184.6 L568.5,184.6 L568.7,184.6 L568.9,184.6 L569.2,184.6 L569.4,184.7 L569.6,184.7 L569.8,184.8 L570.1,184.8 L570.3,184.8 L570.5,184.8 L570.8,184.8 L571.0,184.8 L571.2,184.8 L571.4,184.8 L571.7,184.8 L571.9,184.9 L572.1,184.8 L572.4,184.8 L572.6,184.8 L572.8,184.8 L573.0,184.7 L573.3,184.8 L573.5,184.8 L573.7,184.8 L573.9,184.8 L574.2,184.9 L574.4,184.9 L574.6,184.9 L574.9,184.9 L575.1,184.9 L575.3,184.9 L575.5,184.9 L575.8,184.9 L576.0,184.9 L576.2,184.9 L576.5,184.9 L576.7,184.8 L576.9,184.8 L577.1,184.8 L577.4,184.8 L577.6,184.9 L577.8,184.9 L578.1,184.9 L578.3,184.9 L578.5,184.9 L578.7,184.9 L579.0,184.9 L579.2,184.9 L579.4,184.9 L579.6,184.9 L579.9,184.8 L580.1,184.8 L580.3,184.8 L580.6,184.9 L580.8,184.9 L581.0,184.9 L581.2,184.9 L581.5,184.8 L581.7,184.8 L581.9,184.8 L582.2,184.8 L582.4,184.7 L582.6,184.7 L582.8,184.6 L583.1,184.5 L583.3,184.5 L583.5,184.5 L583.8,184.5 L584.0,184.4 L584.2,184.4 L584.4,184.3 L584.7,184.2 L584.9,184.1 L585.1,184.1 L585.3,184.1 L585.6,184.0 L585.8,184.0 L586.0,184.0 L586.3,183.9 L586.5,183.8 L586.7,183.6 L586.9,183.5 L587.2,183.3 L587.4,183.1 L587.6,182.8 L587.9,182.4 L588.1,181.9 L588.3,181.1 L588.5,179.8 L588.8,178.1 L589.0,176.2 L589.2,175.3 L589.5,176.2 L589.7,178.1 L589.9,179.9 L590.1,181.1 L590.4,182.0 L590.6,182.5 L590.8,182.8 L591.0,183.0 L591.3,183.2 L591.5,183.3 L591.7,183.4 L592.0,183.5 L592.2,183.7 L592.4,183.8 L592.6,184.0 L592.9,184.1 L593.1,184.2 L593.3,184.3 L593.6,184.3 L593.8,184.3 L594.0,184.4 L594.2,184.4 L594.5,184.5 L594.7,184.5 L594.9,184.6 L595.2,184.6 L595.4,184.6 L595.6,184.6 L595.8,184.6 L596.1,184.6 L596.3,184.6 L596.5,184.7 L596.7,184.7 L597.0,184.8 L597.2,184.8 L597.4,184.8 L597.7,184.8 L597.9,184.9 L598.1,184.9 L598.3,184.9 L598.6,184.9 L598.8,184.9 L599.0,184.9 L599.3,184.9 L599.5,184.9 L599.7,184.9 L599.9,184.9 L600.2,184.9 L600.4,184.8 L600.6,184.8 L600.9,184.7 L601.1,184.7 L601.3,184.7 L601.5,184.7 L601.8,184.7 L602.0,184.8 L602.2,184.8 L602.4,184.8 L602.7,184.8 L602.9,184.9 L603.1,184.9 L603.4,184.9 L603.6,184.9 L603.8,185.0 L604.0,185.0 L604.3,184.9 L604.5,184.9 L604.7,184.9 L605.0,184.8 L605.2,184.9 L605.4,184.9 L605.6,184.9 L605.9,185.0 L606.1,185.0 L606.3,185.0 L606.6,185.0 L606.8,185.0 L607.0,185.0 L607.2,184.9 L607.5,184.9 L607.7,184.8 L607.9,184.8 L608.1,184.8 L608.4,184.8 L608.6,184.9 L608.8,184.9 L609.1,184.9 L609.3,184.9 L609.5,184.9 L609.7,184.9 L610.0,184.9 L610.2,184.8 L610.4,184.8 L610.7,184.8 L610.9,184.8 L611.1,184.8 L611.3,184.8 L611.6,184.8 L611.8,184.8 L612.0,184.8 L612.3,184.8 L612.5,184.9 L612.7,184.9 L612.9,184.9 L613.2,184.9 L613.4,184.9 L613.6,184.9 L613.8,184.8 L614.1,184.8 L614.3,184.8 L614.5,184.8 L614.8,184.8 L615.0,184.8 L615.2,184.8 L615.4,184.8 L615.7,184.8 L615.9,184.8 L616.1,184.8 L616.4,184.8 L616.6,184.9 L616.8,184.9 L617.0,184.9 L617.3,184.9 L617.5,184.9 L617.7,184.9 L618.0,184.9 L618.2,184.9 L618.4,184.9 L618.6,185.0 L618.9,185.0 L619.1,185.0 L619.3,185.0 L619.5,185.0 L619.8,185.0 L620.0,185.0 L620.2,185.0 L620.5,184.9 L620.7,184.9 L620.9,184.9 L621.1,184.9 L621.4,184.9 L621.6,185.0 L621.8,185.1 L622.1,185.1 L622.3,185.0 L622.5,184.9 L622.7,184.9 L623.0,184.8 L623.2,184.8 L623.4,184.8 L623.7,184.9 L623.9,184.9 L624.1,184.9 L624.3,184.9 L624.6,184.9 L624.8,184.9 L625.0,184.9 L625.2,184.9 L625.5,184.9 L625.7,184.9 L625.9,184.9 L626.2,184.9 L626.4,184.9 L626.6,184.8 L626.8,184.8 L627.1,184.8 L627.3,184.9 L627.5,184.9 L627.8,185.0 L628.0,185.1 L628.2,185.0 L628.4,185.0 L628.7,184.9 L628.9,184.9 L629.1,184.9 L629.4,184.8 L629.6,184.8 L629.8,184.8 L630.0,184.8 L630.3,184.8 L630.5,184.9 L630.7,184.9 L630.9,185.0 L631.2,184.9 L631.4,184.9 L631.6,184.9 L631.9,184.8 L632.1,184.8 L632.3,184.8 L632.5,184.9 L632.8,184.9 L633.0,184.9 L633.2,184.9 L633.5,184.9 L633.7,184.9 L633.9,184.9 L634.1,184.9 L634.4,184.9 L634.6,184.9 L634.8,184.9 L635.1,185.0 L635.3,185.0 L635.5,185.0 L635.7,185.1 L636.0,185.1 L636.2,185.1 L636.4,185.1 L636.6,185.1 L636.9,185.0 L637.1,185.0 L637.3,185.0 L637.6,185.0 L637.8,184.9 L638.0,184.9 L638.2,184.9 L638.5,185.0 L638.7,185.0 L638.9,185.0 L639.2,185.0 L639.4,185.0 L639.6,185.0 L639.8,185.0 L640.1,185.0 L640.3,184.9 L640.5,184.9 L640.8,184.9 L641.0,184.9 L641.2,184.8 L641.4,184.8 L641.7,184.8 L641.9,184.8 L642.1,184.8 L642.3,184.8 L642.6,184.9 L642.8,184.9 L643.0,184.9 L643.3,184.9 L643.5,184.9 L643.7,184.9 L643.9,184.9 L644.2,184.9 L644.4,185.0 L644.6,185.0 L644.9,185.0 L645.1,185.1 L645.3,185.1 L645.5,185.1 L645.8,185.1 L646.0,185.1 L646.2,185.0 L646.5,185.0 L646.7,185.0 L646.9,184.9 L647.1,184.9 L647.4,184.9 L647.6,184.9 L647.8,184.9 L648.0,184.8 L648.3,184.9 L648.5,184.9 L648.7,185.0 L649.0,185.0 L649.2,185.0 L649.4,184.9 L649.6,184.8 L649.9,184.7 L650.1,184.7 L650.3,184.7 L650.6,184.7 L650.8,184.7 L651.0,184.7 L651.2,184.8 L651.5,184.8 L651.7,184.9 L651.9,184.9 L652.2,184.9 L652.4,184.9 L652.6,184.9 L652.8,184.9 L653.1,184.9 L653.3,184.9 L653.5,184.8 L653.7,184.8 L654.0,184.7 L654.2,184.8 L654.4,184.8 L654.7,184.9 L654.9,184.9 L655.1,184.9 L655.3,184.9 L655.6,185.0 L655.8,185.0 L656.0,185.0 L656.3,185.0 L656.5,184.9 L656.7,184.9 L656.9,184.8 L657.2,184.8 L657.4,184.8 L657.6,184.8 L657.9,184.8 L658.1,184.8 L658.3,184.8 L658.5,184.8 L658.8,184.8 L659.0,184.8 L659.2,184.8 L659.4,184.8 L659.7,184.8 L659.9,184.8 L660.1,184.8 L660.4,184.9 L660.6,184.9 L660.8,185.0 L661.0,185.0 L661.3,185.0 L661.5,184.9 L661.7,184.9 L662.0,184.8 L662.2,184.8 L662.4,184.9 L662.6,184.9 L662.9,185.0 L663.1,185.0 L663.3,185.0 L663.6,185.0 L663.8,185.0 L664.0,185.0 L664.2,185.0 L664.5,184.9 L664.7,184.9 L664.9,184.9 L665.1,184.9 L665.4,184.8 L665.6,184.8 L665.8,184.8 L666.1,184.8 L666.3,184.8 L666.5,184.9 L666.7,184.9 L667.0,185.0 L667.2,185.0 L667.4,184.9 L667.7,184.9 L667.9,184.8 L668.1,184.8 L668.3,184.8 L668.6,184.8 L668.8,184.8 L669.0,184.8 L669.3,184.8 L669.5,184.8 L669.7,184.8 L669.9,184.8 L670.2,184.8 L670.4,184.8 L670.6,184.9 L670.8,184.9 L671.1,185.0 L671.3,184.9 L671.5,184.9 L671.8,184.8 L672.0,184.8 L672.2,184.8 L672.4,184.8 L672.7,184.7 L672.9,184.7 L673.1,184.7 L673.4,184.7 L673.6,184.8 L673.8,184.8 L674.0,184.8 L674.3,184.7 L674.5,184.7 L674.7,184.7 L675.0,184.7 L675.2,184.7 L675.4,184.7 L675.6,184.8 L675.9,184.8 L676.1,184.8 L676.3,184.8 L676.5,184.8 L676.8,184.8 L677.0,184.7 L677.2,184.7 L677.5,184.7 L677.7,184.7 L677.9,184.7 L678.1,184.7 L678.4,184.7 L678.6,184.8 L678.8,184.8 L679.1,184.9 L679.3,184.9 L679.5,184.9 L679.7,184.9 L680.0,184.9 L680.2,184.8 L680.4,184.7 L680.7,184.7 L680.9,184.6 L681.1,184.6 L681.3,184.6 L681.6,184.7 L681.8,184.7 L682.0,184.7 L682.2,184.7 L682.5,184.7 L682.7,184.7 L682.9,184.6 L683.2,184.7 L683.4,184.7 L683.6,184.8 L683.8,184.8 L684.1,184.8 L684.3,184.8 L684.5,184.8 L684.8,184.8 L685.0,184.8 L685.2,184.7 L685.4,184.7 L685.7,184.6 L685.9,184.6 L686.1,184.5 L686.4,184.5 L686.6,184.5 L686.8,184.5 L687.0,184.5 L687.3,184.5 L687.5,184.5 L687.7,184.5 L687.9,184.4 L688.2,184.5 L688.4,184.5 L688.6,184.6 L688.9,184.6 L689.1,184.6 L689.3,184.6 L689.5,184.5 L689.8,184.4 L690.0,184.3 L690.2,184.4 L690.5,184.4 L690.7,184.4 L690.9,184.4 L691.1,184.3 L691.4,184.3 L691.6,184.3 L691.8,184.2 L692.1,184.2 L692.3,184.1 L692.5,184.1 L692.7,184.1 L693.0,184.0 L693.2,184.0 L693.4,183.9 L693.6,183.8 L693.9,183.8 L694.1,183.7 L694.3,183.6 L694.6,183.5 L694.8,183.4 L695.0,183.3 L695.2,183.0 L695.5,182.8 L695.7,182.4 L695.9,182.1 L696.2,181.7 L696.4,181.4 L696.6,181.0 L696.8,180.7 L697.1,180.4 L697.3,180.2 L697.5,180.3 L697.8,180.6 L698.0,180.9 L698.2,181.4 L698.4,181.8 L698.7,182.2 L698.9,182.5 L699.1,182.8 L699.3,183.0 L699.6,183.1 L699.8,183.3 L700.0,183.4 L700.3,183.5 L700.5,183.6 L700.7,183.6 L700.9,183.7 L701.2,183.8 L701.4,183.9 L701.6,184.0 L701.9,184.0 L702.1,184.1 L702.3,184.1 L702.5,184.1 L702.8,184.2 L703.0,184.2 L703.2,184.2 L703.5,184.2 L703.7,184.3 L703.9,184.3 L704.1,184.3 L704.4,184.4 L704.6,184.4 L704.8,184.5 L705.0,184.5 L705.3,184.5 L705.5,184.5 L705.7,184.5 L706.0,184.5 L706.2,184.5 L706.4,184.4 L706.6,184.4 L706.9,184.4 L707.1,184.4 L707.3,184.4 L707.6,184.4 L707.8,184.4 L708.0,184.5 L708.2,184.5 L708.5,184.5 L708.7,184.5 L708.9,184.6 L709.2,184.6 L709.4,184.6 L709.6,184.7 L709.8,184.7 L710.1,184.8 L710.3,184.8 L710.5,184.8 L710.7,184.8 L711.0,184.8 L711.2,184.7 L711.4,184.7 L711.7,184.7 L711.9,184.7 L712.1,184.6 L712.3,184.6 L712.6,184.5 L712.8,184.5 L713.0,184.5 L713.3,184.5 L713.5,184.6 L713.7,184.7 L713.9,184.7 L714.2,184.7 L714.4,184.7 L714.6,184.7 L714.9,184.6 L715.1,184.6 L715.3,184.6 L715.5,184.7 L715.8,184.7 L716.0,184.7 L716.2,184.7 L716.4,184.7 L716.7,184.7 L716.9,184.7 L717.1,184.7 L717.4,184.7 L717.6,184.7 L717.8,184.7 L718.0,184.7 L718.3,184.7 L718.5,184.7 L718.7,184.7 L719.0,184.7 L719.2,184.7 L719.4,184.7 L719.6,184.8 L719.9,184.8 L720.1,184.8 L720.3,184.8 L720.6,184.7 L720.8,184.7 L721.0,184.6 L721.2,184.6 L721.5,184.6 L721.7,184.6 L721.9,184.6 L722.1,184.7 L722.4,184.7 L722.6,184.7 L722.8,184.8 L723.1,184.8 L723.3,184.7 L723.5,184.7 L723.7,184.6 L724.0,184.6 L724.2,184.6" class="tr" stroke="#2200c6"/>
<path d="M405.0,252.1 L405.2,252.1 L405.5,252.1 L405.7,252.1 L405.9,252.1 L406.1,252.1 L406.4,252.1 L406.6,252.0 L406.8,252.0 L407.1,252.0 L407.3,252.0 L407.5,251.9 L407.7,251.9 L408.0,251.9 L408.2,251.9 L408.4,251.9 L408.6,251.8 L408.9,251.8 L409.1,251.8 L409.3,251.9 L409.6,251.9 L409.8,252.0 L410.0,252.0 L410.2,252.0 L410.5,252.0 L410.7,252.0 L410.9,252.0 L411.2,252.0 L411.4,252.0 L411.6,252.0 L411.8,252.1 L412.1,252.1 L412.3,252.0 L412.5,252.0 L412.8,252.0 L413.0,251.9 L413.2,252.0 L413.4,252.0 L413.7,252.0 L413.9,252.1 L414.1,252.1 L414.3,252.0 L414.6,252.0 L414.8,251.9 L415.0,251.9 L415.3,251.9 L415.5,252.0 L415.7,252.0 L415.9,252.1 L416.2,252.1 L416.4,252.1 L416.6,252.1 L416.9,252.1 L417.1,252.1 L417.3,252.0 L417.5,252.0 L417.8,252.0 L418.0,251.9 L418.2,252.0 L418.5,252.0 L418.7,252.0 L418.9,252.0 L419.1,252.0 L419.4,252.0 L419.6,252.0 L419.8,252.0 L420.0,252.0 L420.3,252.0 L420.5,252.0 L420.7,251.9 L421.0,251.9 L421.2,251.9 L421.4,251.9 L421.6,251.9 L421.9,252.0 L422.1,252.0 L422.3,252.0 L422.6,252.0 L422.8,252.1 L423.0,252.1 L423.2,252.0 L423.5,252.0 L423.7,251.9 L423.9,251.9 L424.2,251.9 L424.4,252.0 L424.6,252.0 L424.8,252.0 L425.1,252.1 L425.3,252.1 L425.5,252.1 L425.7,252.0 L426.0,252.0 L426.2,252.0 L426.4,252.1 L426.7,252.1 L426.9,252.1 L427.1,252.1 L427.3,252.0 L427.6,252.0 L427.8,251.9 L428.0,251.9 L428.3,251.9 L428.5,251.9 L428.7,251.8 L428.9,251.8 L429.2,251.9 L429.4,251.9 L429.6,252.0 L429.9,252.0 L430.1,252.1 L430.3,252.1 L430.5,252.1 L430.8,252.1 L431.0,252.1 L431.2,252.0 L431.4,252.0 L431.7,252.0 L431.9,252.0 L432.1,251.9 L432.4,251.9 L432.6,251.9 L432.8,251.8 L433.0,251.8 L433.3,251.8 L433.5,251.8 L433.7,251.8 L434.0,251.8 L434.2,251.9 L434.4,251.9 L434.6,251.9 L434.9,252.0 L435.1,252.0 L435.3,252.0 L435.6,251.9 L435.8,251.9 L436.0,251.9 L436.2,251.9 L436.5,252.0 L436.7,252.0 L436.9,252.1 L437.1,252.1 L437.4,252.1 L437.6,252.0 L437.8,252.0 L438.1,252.0 L438.3,251.9 L438.5,251.9 L438.7,251.9 L439.0,251.8 L439.2,251.9 L439.4,251.9 L439.7,251.9 L439.9,252.0 L440.1,252.0 L440.3,252.0 L440.6,251.9 L440.8,251.9 L441.0,251.9 L441.3,251.9 L441.5,252.0 L441.7,252.0 L441.9,252.1 L442.2,252.1 L442.4,252.1 L442.6,252.1 L442.8,252.1 L443.1,252.1 L443.3,252.0 L443.5,252.0 L443.8,252.0 L444.0,252.0 L444.2,252.0 L444.4,252.0 L444.7,252.0 L444.9,252.0 L445.1,252.0 L445.4,252.0 L445.6,252.0 L445.8,252.0 L446.0,252.0 L446.3,252.0 L446.5,252.0 L446.7,252.0 L447.0,252.0 L447.2,252.1 L447.4,252.1 L447.6,252.1 L447.9,252.1 L448.1,252.1 L448.3,252.0 L448.5,251.9 L448.8,251.8 L449.0,251.8 L449.2,251.8 L449.5,251.8 L449.7,251.8 L449.9,251.9 L450.1,251.9 L450.4,251.9 L450.6,251.9 L450.8,252.0 L451.1,252.0 L451.3,251.9 L451.5,251.9 L451.7,251.9 L452.0,251.9 L452.2,251.9 L452.4,251.9 L452.7,251.9 L452.9,252.0 L453.1,251.9 L453.3,251.9 L453.6,251.9 L453.8,251.8 L454.0,251.8 L454.2,251.9 L454.5,251.9 L454.7,252.0 L454.9,252.0 L455.2,252.0 L455.4,252.0 L455.6,252.0 L455.8,252.0 L456.1,251.9 L456.3,251.9 L456.5,251.9 L456.8,251.8 L457.0,251.8 L457.2,251.8 L457.4,251.9 L457.7,251.9 L457.9,252.0 L458.1,252.0 L458.4,251.9 L458.6,251.9 L458.8,251.9 L459.0,251.9 L459.3,251.8 L459.5,251.8 L459.7,251.8 L459.9,251.8 L460.2,251.8 L460.4,251.9 L460.6,251.9 L460.9,251.9 L461.1,251.9 L461.3,251.9 L461.5,251.8 L461.8,251.8 L462.0,251.8 L462.2,251.8 L462.5,251.8 L462.7,251.8 L462.9,251.8 L463.1,251.8 L463.4,251.9 L463.6,252.0 L463.8,252.0 L464.1,252.0 L464.3,252.0 L464.5,252.0 L464.7,252.0 L465.0,252.0 L465.2,251.9 L465.4,251.9 L465.6,251.8 L465.9,251.8 L466.1,251.8 L466.3,251.8 L466.6,251.9 L466.8,252.0 L467.0,252.0 L467.2,251.9 L467.5,251.9 L467.7,251.8 L467.9,251.8 L468.2,251.8 L468.4,251.8 L468.6,251.8 L468.8,251.8 L469.1,251.9 L469.3,251.9 L469.5,252.0 L469.8,252.0 L470.0,252.0 L470.2,252.0 L470.4,252.0 L470.7,252.0 L470.9,252.0 L471.1,251.9 L471.3,251.9 L471.6,251.9 L471.8,251.9 L472.0,251.8 L472.3,251.8 L472.5,251.8 L472.7,251.9 L472.9,251.9 L473.2,251.9 L473.4,251.9 L473.6,251.9 L473.9,251.9 L474.1,251.9 L474.3,251.8 L474.5,251.8 L474.8,251.8 L475.0,251.8 L475.2,251.8 L475.5,251.9 L475.7,252.0 L475.9,252.0 L476.1,252.0 L476.4,252.0 L476.6,251.9 L476.8,251.8 L477.0,251.7 L477.3,251.8 L477.5,251.8 L477.7,251.8 L478.0,251.9 L478.2,251.9 L478.4,251.9 L478.6,251.9 L478.9,252.0 L479.1,252.0 L479.3,251.9 L479.6,251.9 L479.8,251.9 L480.0,251.9 L480.2,251.9 L480.5,252.0 L480.7,252.0 L480.9,252.0 L481.2,252.0 L481.4,252.0 L481.6,251.9 L481.8,251.8 L482.1,251.8 L482.3,251.9 L482.5,251.9 L482.7,252.0 L483.0,252.1 L483.2,252.1 L483.4,252.0 L483.7,252.0 L483.9,252.0 L484.1,252.0 L484.3,252.0 L484.6,252.0 L484.8,252.0 L485.0,251.9 L485.3,252.0 L485.5,252.0 L485.7,252.0 L485.9,252.0 L486.2,252.0 L486.4,252.0 L486.6,251.9 L486.9,251.9 L487.1,251.9 L487.3,251.9 L487.5,251.9 L487.8,252.0 L488.0,252.0 L488.2,252.0 L488.4,252.0 L488.7,252.0 L488.9,252.0 L489.1,252.0 L489.4,251.9 L489.6,251.9 L489.8,251.9 L490.0,251.9 L490.3,251.9 L490.5,251.9 L490.7,251.9 L491.0,251.9 L491.2,251.9 L491.4,251.9 L491.6,251.9 L491.9,251.9 L492.1,251.9 L492.3,251.9 L492.6,251.9 L492.8,251.9 L493.0,251.8 L493.2,251.8 L493.5,251.8 L493.7,251.8 L493.9,251.7 L494.1,251.8 L494.4,251.8 L494.6,251.9 L494.8,251.9 L495.1,251.9 L495.3,251.9 L495.5,251.9 L495.7,251.8 L496.0,251.8 L496.2,251.8 L496.4,251.8 L496.7,251.8 L496.9,251.8 L497.1,251.9 L497.3,251.9 L497.6,251.9 L497.8,251.9 L498.0,252.0 L498.3,251.9 L498.5,251.9 L498.7,251.8 L498.9,251.8 L499.2,251.7 L499.4,251.7 L499.6,251.7 L499.8,251.7 L500.1,251.7 L500.3,251.7 L500.5,251.7 L500.8,251.7 L501.0,251.7 L501.2,251.8 L501.4,251.8 L501.7,251.8 L501.9,251.9 L502.1,251.9 L502.4,251.9 L502.6,251.8 L502.8,251.8 L503.0,251.8 L503.3,251.8 L503.5,251.8 L503.7,251.8 L504.0,251.8 L504.2,251.8 L504.4,251.8 L504.6,251.8 L504.9,251.8 L505.1,251.8 L505.3,251.9 L505.5,251.9 L505.8,252.0 L506.0,252.0 L506.2,251.9 L506.5,251.9 L506.7,251.8 L506.9,251.8 L507.1,251.8 L507.4,251.8 L507.6,251.8 L507.8,251.8 L508.1,251.8 L508.3,251.8 L508.5,251.9 L508.7,251.9 L509.0,252.0 L509.2,251.9 L509.4,251.9 L509.7,251.9 L509.9,251.9 L510.1,251.9 L510.3,251.8 L510.6,251.8 L510.8,251.8 L511.0,251.7 L511.2,251.8 L511.5,251.8 L511.7,251.8 L511.9,251.8 L512.2,251.8 L512.4,251.8 L512.6,251.8 L512.8,251.8 L513.1,251.8 L513.3,251.8 L513.5,251.7 L513.8,251.7 L514.0,251.7 L514.2,251.7 L514.4,251.7 L514.7,251.7 L514.9,251.8 L515.1,251.8 L515.4,251.8 L515.6,251.8 L515.8,251.7 L516.0,251.7 L516.3,251.8 L516.5,251.8 L516.7,251.9 L516.9,251.9 L517.2,251.9 L517.4,251.8 L517.6,251.8 L517.9,251.8 L518.1,251.7 L518.3,251.8 L518.5,251.8 L518.8,251.8 L519.0,251.9 L519.2,251.9 L519.5,251.9 L519.7,251.9 L519.9,252.0 L520.1,252.0 L520.4,252.0 L520.6,251.9 L520.8,251.9 L521.1,251.9 L521.3,251.9 L521.5,251.8 L521.7,251.8 L522.0,251.7 L522.2,251.8 L522.4,251.8 L522.6,251.8 L522.9,251.8 L523.1,251.8 L523.3,251.8 L523.6,251.8 L523.8,251.7 L524.0,251.7 L524.2,251.7 L524.5,251.7 L524.7,251.7 L524.9,251.7 L525.2,251.7 L525.4,251.7 L525.6,251.7 L525.8,251.8 L526.1,251.8 L526.3,251.8 L526.5,251.8 L526.8,251.8 L527.0,251.9 L527.2,251.9 L527.4,251.9 L527.7,251.9 L527.9,251.9 L528.1,251.9 L528.3,251.8 L528.6,251.8 L528.8,251.7 L529.0,251.7 L529.3,251.6 L529.5,251.6 L529.7,251.6 L529.9,251.6 L530.2,251.6 L530.4,251.6 L530.6,251.6 L530.9,251.7 L531.1,251.7 L531.3,251.7 L531.5,251.6 L531.8,251.6 L532.0,251.5 L532.2,251.5 L532.5,251.5 L532.7,251.5 L532.9,251.5 L533.1,251.6 L533.4,251.6 L533.6,251.7 L533.8,251.7 L534.0,251.8 L534.3,251.7 L534.5,251.7 L534.7,251.6 L535.0,251.5 L535.2,251.6 L535.4,251.6 L535.6,251.7 L535.9,251.7 L536.1,251.7 L536.3,251.7 L536.6,251.6 L536.8,251.6 L537.0,251.6 L537.2,251.6 L537.5,251.7 L537.7,251.7 L537.9,251.8 L538.2,251.8 L538.4,251.7 L538.6,251.7 L538.8,251.7 L539.1,251.7 L539.3,251.6 L539.5,251.5 L539.7,251.5 L540.0,251.4 L540.2,251.4 L540.4,251.4 L540.7,251.4 L540.9,251.4 L541.1,251.4 L541.3,251.5 L541.6,251.5 L541.8,251.6 L542.0,251.6 L542.3,251.6 L542.5,251.6 L542.7,251.5 L542.9,251.5 L543.2,251.4 L543.4,251.4 L543.6,251.4 L543.9,251.4 L544.1,251.3 L544.3,251.4 L544.5,251.4 L544.8,251.4 L545.0,251.4 L545.2,251.4 L545.4,251.4 L545.7,251.3 L545.9,251.3 L546.1,251.3 L546.4,251.2 L546.6,251.2 L546.8,251.1 L547.0,251.1 L547.3,251.0 L547.5,251.0 L547.7,250.9 L548.0,250.9 L548.2,250.8 L548.4,250.8 L548.6,250.7 L548.9,250.6 L549.1,250.5 L549.3,250.5 L549.6,250.4 L549.8,250.4 L550.0,250.3 L550.2,250.2 L550.5,250.1 L550.7,250.0 L550.9,249.9 L551.1,249.8 L551.4,249.7 L551.6,249.6 L551.8,249.5 L552.1,249.3 L552.3,249.1 L552.5,248.9 L552.7,248.7 L553.0,248.4 L553.2,248.1 L553.4,247.8 L553.7,247.4 L553.9,246.9 L554.1,246.5 L554.3,246.1 L554.6,245.6 L554.8,245.0 L555.0,244.3 L555.3,243.4 L555.5,242.3 L555.7,240.7 L555.9,237.9 L556.2,233.1 L556.4,225.2 L556.6,215.5 L556.8,210.2 L557.1,215.5 L557.3,225.3 L557.5,233.2 L557.8,238.0 L558.0,240.8 L558.2,242.4 L558.4,243.4 L558.7,244.3 L558.9,245.0 L559.1,245.6 L559.4,246.2 L559.6,246.7 L559.8,247.2 L560.0,247.6 L560.3,247.9 L560.5,248.2 L560.7,248.4 L561.0,248.7 L561.2,248.9 L561.4,249.1 L561.6,249.3 L561.9,249.5 L562.1,249.6 L562.3,249.7 L562.5,249.8 L562.8,249.9 L563.0,249.9 L563.2,250.1 L563.5,250.2 L563.7,250.4 L563.9,250.5 L564.1,250.6 L564.4,250.6 L564.6,250.6 L564.8,250.6 L565.1,250.6 L565.3,250.7 L565.5,250.8 L565.7,250.8 L566.0,250.9 L566.2,251.0 L566.4,251.1 L566.7,251.1 L566.9,251.2 L567.1,251.2 L567.3,251.2 L567.6,251.3 L567.8,251.3 L568.0,251.3 L568.2,251.3 L568.5,251.3 L568.7,251.4 L568.9,251.4 L569.2,251.4 L569.4,251.3 L569.6,251.3 L569.8,251.3 L570.1,251.3 L570.3,251.3 L570.5,251.4 L570.8,251.4 L571.0,251.4 L571.2,251.4 L571.4,251.4 L571.7,251.5 L571.9,251.5 L572.1,251.5 L572.4,251.4 L572.6,251.4 L572.8,251.3 L573.0,251.3 L573.3,251.4 L573.5,251.4 L573.7,251.5 L573.9,251.6 L574.2,251.6 L574.4,251.6 L574.6,251.6 L574.9,251.6 L575.1,251.6 L575.3,251.5 L575.5,251.5 L575.8,251.5 L576.0,251.4 L576.2,251.4 L576.5,251.5 L576.7,251.5 L576.9,251.5 L577.1,251.5 L577.4,251.5 L577.6,251.5 L577.8,251.4 L578.1,251.4 L578.3,251.4 L578.5,251.4 L578.7,251.3 L579.0,251.3 L579.2,251.4 L579.4,251.4 L579.6,251.4 L579.9,251.4 L580.1,251.4 L580.3,251.4 L580.6,251.3 L580.8,251.2 L581.0,251.2 L581.2,251.2 L581.5,251.3 L581.7,251.3 L581.9,251.3 L582.2,251.4 L582.4,251.3 L582.6,251.3 L582.8,251.3 L583.1,251.3 L583.3,251.2 L583.5,251.1 L583.8,251.0 L584.0,250.9 L584.2,250.9 L584.4,250.9 L584.7,250.9 L584.9,250.9 L585.1,250.8 L585.3,250.7 L585.6,250.5 L585.8,250.3 L586.0,250.2 L586.3,250.1 L586.5,250.0 L586.7,249.9 L586.9,249.8 L587.2,249.6 L587.4,249.3 L587.6,248.9 L587.9,248.4 L588.1,247.8 L588.3,246.8 L588.5,245.2 L588.8,242.9 L589.0,240.5 L589.2,239.2 L589.5,240.4 L589.7,242.8 L589.9,245.1 L590.1,246.8 L590.4,247.9 L590.6,248.6 L590.8,249.1 L591.0,249.4 L591.3,249.6 L591.5,249.7 L591.7,249.8 L592.0,249.9 L592.2,250.0 L592.4,250.2 L592.6,250.3 L592.9,250.4 L593.1,250.5 L593.3,250.6 L593.6,250.8 L593.8,250.9 L594.0,251.0 L594.2,251.1 L594.5,251.1 L594.7,251.1 L594.9,251.2 L595.2,251.2 L595.4,251.2 L595.6,251.2 L595.8,251.3 L596.1,251.3 L596.3,251.2 L596.5,251.2 L596.7,251.2 L597.0,251.2 L597.2,251.2 L597.4,251.2 L597.7,251.3 L597.9,251.3 L598.1,251.3 L598.3,251.3 L598.6,251.4 L598.8,251.4 L599.0,251.4 L599.3,251.4 L599.5,251.4 L599.7,251.4 L599.9,251.4 L600.2,251.4 L600.4,251.5 L600.6,251.6 L600.9,251.7 L601.1,251.7 L601.3,251.7 L601.5,251.7 L601.8,251.7 L602.0,251.7 L602.2,251.7 L602.4,251.7 L602.7,251.7 L602.9,251.7 L603.1,251.7 L603.4,251.7 L603.6,251.7 L603.8,251.7 L604.0,251.7 L604.3,251.6 L604.5,251.6 L604.7,251.6 L605.0,251.6 L605.2,251.5 L605.4,251.5 L605.6,251.5 L605.9,251.5 L606.1,251.5 L606.3,251.6 L606.6,251.6 L606.8,251.7 L607.0,251.7 L607.2,251.7 L607.5,251.6 L607.7,251.6 L607.9,251.5 L608.1,251.5 L608.4,251.6 L608.6,251.6 L608.8,251.6 L609.1,251.7 L609.3,251.7 L609.5,251.7 L609.7,251.7 L610.0,251.6 L610.2,251.6 L610.4,251.7 L610.7,251.7 L610.9,251.7 L611.1,251.6 L611.3,251.6 L611.6,251.6 L611.8,251.5 L612.0,251.5 L612.3,251.5 L612.5,251.5 L612.7,251.5 L612.9,251.5 L613.2,251.5 L613.4,251.6 L613.6,251.6 L613.8,251.7 L614.1,251.7 L614.3,251.6 L614.5,251.6 L614.8,251.5 L615.0,251.5 L615.2,251.5 L615.4,251.6 L615.7,251.6 L615.9,251.7 L616.1,251.7 L616.4,251.6 L616.6,251.6 L616.8,251.6 L617.0,251.6 L617.3,251.6 L617.5,251.6 L617.7,251.6 L618.0,251.6 L618.2,251.6 L618.4,251.6 L618.6,251.6 L618.9,251.6 L619.1,251.6 L619.3,251.6 L619.5,251.6 L619.8,251.7 L620.0,251.7 L620.2,251.7 L620.5,251.7 L620.7,251.7 L620.9,251.6 L621.1,251.6 L621.4,251.6 L621.6,251.6 L621.8,251.6 L622.1,251.6 L622.3,251.6 L622.5,251.6 L622.7,251.6 L623.0,251.6 L623.2,251.6 L623.4,251.6 L623.7,251.7 L623.9,251.7 L624.1,251.7 L624.3,251.7 L624.6,251.8 L624.8,251.8 L625.0,251.8 L625.2,251.8 L625.5,251.7 L625.7,251.7 L625.9,251.7 L626.2,251.6 L626.4,251.6 L626.6,251.6 L626.8,251.6 L627.1,251.6 L627.3,251.6 L627.5,251.6 L627.8,251.6 L628.0,251.6 L628.2,251.6 L628.4,251.6 L628.7,251.6 L628.9,251.6 L629.1,251.6 L629.4,251.6 L629.6,251.7 L629.8,251.7 L630.0,251.7 L630.3,251.7 L630.5,251.7 L630.7,251.8 L630.9,251.8 L631.2,251.8 L631.4,251.8 L631.6,251.7 L631.9,251.7 L632.1,251.7 L632.3,251.7 L632.5,251.6 L632.8,251.6 L633.0,251.6 L633.2,251.6 L633.5,251.6 L633.7,251.6 L633.9,251.6 L634.1,251.6 L634.4,251.6 L634.6,251.6 L634.8,251.6 L635.1,251.6 L635.3,251.6 L635.5,251.6 L635.7,251.7 L636.0,251.7 L636.2,251.7 L636.4,251.7 L636.6,251.6 L636.9,251.6 L637.1,251.7 L637.3,251.7 L637.6,251.8 L637.8,251.8 L638.0,251.9 L638.2,251.8 L638.5,251.8 L638.7,251.7 L638.9,251.7 L639.2,251.7 L639.4,251.7 L639.6,251.7 L639.8,251.7 L640.1,251.7 L640.3,251.7 L640.5,251.7 L640.8,251.7 L641.0,251.8 L641.2,251.7 L641.4,251.7 L641.7,251.7 L641.9,251.7 L642.1,251.7 L642.3,251.7 L642.6,251.8 L642.8,251.8 L643.0,251.8 L643.3,251.7 L643.5,251.7 L643.7,251.7 L643.9,251.6 L644.2,251.6 L644.4,251.7 L644.6,251.7 L644.9,251.7 L645.1,251.7 L645.3,251.8 L645.5,251.8 L645.8,251.8 L646.0,251.8 L646.2,251.8 L646.5,251.7 L646.7,251.6 L646.9,251.6 L647.1,251.6 L647.4,251.6 L647.6,251.6 L647.8,251.7 L648.0,251.7 L648.3,251.7 L648.5,251.7 L648.7,251.6 L649.0,251.6 L649.2,251.6 L649.4,251.6 L649.6,251.5 L649.9,251.5 L650.1,251.5 L650.3,251.5 L650.6,251.5 L650.8,251.5 L651.0,251.5 L651.2,251.6 L651.5,251.6 L651.7,251.7 L651.9,251.7 L652.2,251.7 L652.4,251.7 L652.6,251.6 L652.8,251.6 L653.1,251.5 L653.3,251.6 L653.5,251.6 L653.7,251.7 L654.0,251.7 L654.2,251.7 L654.4,251.6 L654.7,251.6 L654.9,251.5 L655.1,251.5 L655.3,251.5 L655.6,251.6 L655.8,251.6 L656.0,251.6 L656.3,251.6 L656.5,251.5 L656.7,251.5 L656.9,251.5 L657.2,251.5 L657.4,251.6 L657.6,251.6 L657.9,251.6 L658.1,251.7 L658.3,251.7 L658.5,251.7 L658.8,251.7 L659.0,251.8 L659.2,251.7 L659.4,251.7 L659.7,251.6 L659.9,251.6 L660.1,251.6 L660.4,251.6 L660.6,251.6 L660.8,251.6 L661.0,251.7 L661.3,251.7 L661.5,251.7 L661.7,251.8 L662.0,251.8 L662.2,251.8 L662.4,251.7 L662.6,251.7 L662.9,251.6 L663.1,251.6 L663.3,251.6 L663.6,251.6 L663.8,251.6 L664.0,251.6 L664.2,251.7 L664.5,251.7 L664.7,251.7 L664.9,251.7 L665.1,251.7 L665.4,251.7 L665.6,251.7 L665.8,251.8 L666.1,251.8 L666.3,251.7 L666.5,251.6 L666.7,251.6 L667.0,251.5 L667.2,251.5 L667.4,251.6 L667.7,251.6 L667.9,251.7 L668.1,251.7 L668.3,251.6 L668.6,251.6 L668.8,251.5 L669.0,251.5 L669.3,251.5 L669.5,251.5 L669.7,251.5 L669.9,251.5 L670.2,251.5 L670.4,251.6 L670.6,251.7 L670.8,251.7 L671.1,251.8 L671.3,251.7 L671.5,251.6 L671.8,251.5 L672.0,251.5 L672.2,251.5 L672.4,251.6 L672.7,251.7 L672.9,251.7 L673.1,251.8 L673.4,251.7 L673.6,251.7 L673.8,251.7 L674.0,251.7 L674.3,251.7 L674.5,251.7 L674.7,251.7 L675.0,251.7 L675.2,251.7 L675.4,251.7 L675.6,251.7 L675.9,251.7 L676.1,251.7 L676.3,251.7 L676.5,251.7 L676.8,251.6 L677.0,251.6 L677.2,251.6 L677.5,251.6 L677.7,251.5 L677.9,251.5 L678.1,251.5 L678.4,251.5 L678.6,251.5 L678.8,251.5 L679.1,251.5 L679.3,251.5 L679.5,251.5 L679.7,251.5 L680.0,251.5 L680.2,251.5 L680.4,251.5 L680.7,251.6 L680.9,251.6 L681.1,251.7 L681.3,251.7 L681.6,251.7 L681.8,251.6 L682.0,251.6 L682.2,251.6 L682.5,251.6 L682.7,251.6 L682.9,251.6 L683.2,251.6 L683.4,251.5 L683.6,251.5 L683.8,251.4 L684.1,251.4 L684.3,251.4 L684.5,251.4 L684.8,251.5 L685.0,251.5 L685.2,251.5 L685.4,251.4 L685.7,251.4 L685.9,251.4 L686.1,251.4 L686.4,251.4 L686.6,251.4 L686.8,251.5 L687.0,251.5 L687.3,251.5 L687.5,251.5 L687.7,251.5 L687.9,251.4 L688.2,251.4 L688.4,251.5 L688.6,251.5 L688.9,251.5 L689.1,251.4 L689.3,251.4 L689.5,251.4 L689.8,251.3 L690.0,251.3 L690.2,251.3 L690.5,251.2 L690.7,251.2 L690.9,251.2 L691.1,251.1 L691.4,251.1 L691.6,251.1 L691.8,251.0 L692.1,251.0 L692.3,250.9 L692.5,250.8 L692.7,250.7 L693.0,250.6 L693.2,250.5 L693.4,250.5 L693.6,250.4 L693.9,250.4 L694.1,250.3 L694.3,250.1 L694.6,250.0 L694.8,249.8 L695.0,249.6 L695.2,249.4 L695.5,249.1 L695.7,248.9 L695.9,248.5 L696.2,248.1 L696.4,247.6 L696.6,247.0 L696.8,246.5 L697.1,246.2 L697.3,246.1 L697.5,246.3 L697.8,246.8 L698.0,247.3 L698.2,247.7 L698.4,248.1 L698.7,248.5 L698.9,248.8 L699.1,249.1 L699.3,249.5 L699.6,249.7 L699.8,250.0 L700.0,250.2 L700.3,250.3 L700.5,250.4 L700.7,250.5 L700.9,250.6 L701.2,250.7 L701.4,250.7 L701.6,250.7 L701.9,250.8 L702.1,250.8 L702.3,250.9 L702.5,251.0 L702.8,251.0 L703.0,251.1 L703.2,251.1 L703.5,251.0 L703.7,251.0 L703.9,251.0 L704.1,251.0 L704.4,251.0 L704.6,251.0 L704.8,251.1 L705.0,251.1 L705.3,251.1 L705.5,251.1 L705.7,251.1 L706.0,251.1 L706.2,251.1 L706.4,251.2 L706.6,251.2 L706.9,251.2 L707.1,251.2 L707.3,251.2 L707.6,251.2 L707.8,251.2 L708.0,251.2 L708.2,251.3 L708.5,251.4 L708.7,251.4 L708.9,251.5 L709.2,251.5 L709.4,251.5 L709.6,251.4 L709.8,251.3 L710.1,251.3 L710.3,251.4 L710.5,251.4 L710.7,251.5 L711.0,251.5 L711.2,251.5 L711.4,251.5 L711.7,251.4 L711.9,251.4 L712.1,251.4 L712.3,251.4 L712.6,251.4 L712.8,251.4 L713.0,251.4 L713.3,251.4 L713.5,251.4 L713.7,251.5 L713.9,251.5 L714.2,251.5 L714.4,251.5 L714.6,251.4 L714.9,251.4 L715.1,251.4 L715.3,251.5 L715.5,251.6 L715.8,251.6 L716.0,251.7 L716.2,251.7 L716.4,251.6 L716.7,251.6 L716.9,251.5 L717.1,251.5 L717.4,251.5 L717.6,251.5 L717.8,251.6 L718.0,251.6 L718.3,251.6 L718.5,251.6 L718.7,251.6 L719.0,251.6 L719.2,251.6 L719.4,251.6 L719.6,251.6 L719.9,251.6 L720.1,251.6 L720.3,251.6 L720.6,251.6 L720.8,251.6 L721.0,251.5 L721.2,251.5 L721.5,251.5 L721.7,251.5 L721.9,251.5 L722.1,251.5 L722.4,251.5 L722.6,251.4 L722.8,251.4 L723.1,251.4 L723.3,251.5 L723.5,251.6 L723.7,251.6 L724.0,251.7 L724.2,251.6" class="tr" stroke="#d0101a"/>
<line x1="26.90" y1="19.00" x2="347.65" y2="19.00" stroke="#1a1a1a" stroke-width="1.25"/>
<line x1="26.90" y1="264.50" x2="347.65" y2="264.50" stroke="#1a1a1a" stroke-width="1.35"/>
<line x1="27.50" y1="18.40" x2="27.50" y2="265.10" stroke="#1a1a1a" stroke-width="1.35"/>
<line x1="347.20" y1="18.40" x2="347.20" y2="265.10" stroke="#1a1a1a" stroke-width="0.95"/>
<line x1="27.50" y1="19.00" x2="27.50" y2="15.00" class="tick"/>
<line x1="27.50" y1="264.50" x2="27.50" y2="269.80" class="tick"/>
<path transform="translate(17.66,289.7) scale(0.00864,-0.00864)" d="M763,0 L583,0 L583,1147 Q518,1085 412.5,1023 T223,930 L223,1104 Q374,1175 487,1276 T647,1472 L763,1472 Z" fill="#111"/>
<text x="27.50" y="289.7" class="tl" style="text-anchor:start">0</text>
<line x1="73.17" y1="19.00" x2="73.17" y2="15.00" class="tick"/>
<line x1="73.17" y1="264.50" x2="73.17" y2="269.80" class="tick"/>
<text x="73.17" y="289.7" class="tl">20</text>
<line x1="118.84" y1="19.00" x2="118.84" y2="15.00" class="tick"/>
<line x1="118.84" y1="264.50" x2="118.84" y2="269.80" class="tick"/>
<text x="118.84" y="289.7" class="tl">30</text>
<line x1="164.51" y1="19.00" x2="164.51" y2="15.00" class="tick"/>
<line x1="164.51" y1="264.50" x2="164.51" y2="269.80" class="tick"/>
<text x="164.51" y="289.7" class="tl">40</text>
<line x1="210.19" y1="19.00" x2="210.19" y2="15.00" class="tick"/>
<line x1="210.19" y1="264.50" x2="210.19" y2="269.80" class="tick"/>
<text x="210.19" y="289.7" class="tl">50</text>
<line x1="255.86" y1="19.00" x2="255.86" y2="15.00" class="tick"/>
<line x1="255.86" y1="264.50" x2="255.86" y2="269.80" class="tick"/>
<text x="255.86" y="289.7" class="tl">60</text>
<line x1="301.53" y1="19.00" x2="301.53" y2="15.00" class="tick"/>
<line x1="301.53" y1="264.50" x2="301.53" y2="269.80" class="tick"/>
<text x="301.53" y="289.7" class="tl">70</text>
<line x1="347.20" y1="19.00" x2="347.20" y2="15.00" class="tick"/>
<line x1="347.20" y1="264.50" x2="347.20" y2="269.80" class="tick"/>
<text x="347.20" y="289.7" class="tl">80</text>
<line x1="404.40" y1="19.00" x2="724.65" y2="19.00" stroke="#1a1a1a" stroke-width="1.25"/>
<line x1="404.40" y1="264.50" x2="724.65" y2="264.50" stroke="#1a1a1a" stroke-width="1.35"/>
<line x1="405.00" y1="18.40" x2="405.00" y2="265.10" stroke="#1a1a1a" stroke-width="1.35"/>
<line x1="724.20" y1="18.40" x2="724.20" y2="265.10" stroke="#1a1a1a" stroke-width="0.95"/>
<line x1="405.00" y1="19.00" x2="405.00" y2="15.00" class="tick"/>
<line x1="405.00" y1="264.50" x2="405.00" y2="269.80" class="tick"/>
<path transform="translate(395.16,289.7) scale(0.00864,-0.00864)" d="M763,0 L583,0 L583,1147 Q518,1085 412.5,1023 T223,930 L223,1104 Q374,1175 487,1276 T647,1472 L763,1472 Z" fill="#111"/>
<text x="405.00" y="289.7" class="tl" style="text-anchor:start">0</text>
<line x1="450.60" y1="19.00" x2="450.60" y2="15.00" class="tick"/>
<line x1="450.60" y1="264.50" x2="450.60" y2="269.80" class="tick"/>
<text x="450.60" y="289.7" class="tl">20</text>
<line x1="496.20" y1="19.00" x2="496.20" y2="15.00" class="tick"/>
<line x1="496.20" y1="264.50" x2="496.20" y2="269.80" class="tick"/>
<text x="496.20" y="289.7" class="tl">30</text>
<line x1="541.80" y1="19.00" x2="541.80" y2="15.00" class="tick"/>
<line x1="541.80" y1="264.50" x2="541.80" y2="269.80" class="tick"/>
<text x="541.80" y="289.7" class="tl">40</text>
<line x1="587.40" y1="19.00" x2="587.40" y2="15.00" class="tick"/>
<line x1="587.40" y1="264.50" x2="587.40" y2="269.80" class="tick"/>
<text x="587.40" y="289.7" class="tl">50</text>
<line x1="633.00" y1="19.00" x2="633.00" y2="15.00" class="tick"/>
<line x1="633.00" y1="264.50" x2="633.00" y2="269.80" class="tick"/>
<text x="633.00" y="289.7" class="tl">60</text>
<line x1="678.60" y1="19.00" x2="678.60" y2="15.00" class="tick"/>
<line x1="678.60" y1="264.50" x2="678.60" y2="269.80" class="tick"/>
<text x="678.60" y="289.7" class="tl">70</text>
<line x1="724.20" y1="19.00" x2="724.20" y2="15.00" class="tick"/>
<line x1="724.20" y1="264.50" x2="724.20" y2="269.80" class="tick"/>
<text x="724.20" y="289.7" class="tl">80</text>
<path d="M127.70,95.30 L132.70,95.30 L130.20,101.50 Z" class="tri"/>
<path d="M141.70,42.50 L146.70,42.50 L144.20,48.70 Z" class="tri"/>
<path d="M156.00,42.50 L161.00,42.50 L158.50,48.70 Z" class="tri"/>
<path d="M190.70,97.90 L195.70,97.90 L193.20,104.10 Z" class="tri"/>
<path d="M201.90,87.70 L206.90,87.70 L204.40,93.90 Z" class="tri"/>
<path d="M223.70,97.50 L228.70,97.50 L226.20,103.70 Z" class="tri"/>
<path d="M245.30,95.30 L250.30,95.30 L247.80,101.50 Z" class="tri"/>
<path d="M260.70,90.60 L265.70,90.60 L263.20,96.80 Z" class="tri"/>
<path d="M281.40,90.60 L286.40,90.60 L283.90,96.80 Z" class="tri"/>
<path d="M290.30,90.60 L295.30,90.60 L292.80,96.80 Z" class="tri"/>
<path d="M309.80,97.30 L314.80,97.30 L312.30,103.50 Z" class="tri"/>
<path d="M322.40,97.30 L327.40,97.30 L324.90,103.50 Z" class="tri"/>
<path d="M40.40,130.15 L42.85,134.00 L40.40,137.85 L37.95,134.00 Z" class="dia"/>
<path d="M79.90,169.45 L82.35,173.30 L79.90,177.15 L77.45,173.30 Z" class="dia"/>
<path d="M99.40,150.75 L101.85,154.60 L99.40,158.45 L96.95,154.60 Z" class="dia"/>
<path d="M117.30,169.45 L119.75,173.30 L117.30,177.15 L114.85,173.30 Z" class="dia"/>
<path d="M127.80,167.35 L130.25,171.20 L127.80,175.05 L125.35,171.20 Z" class="dia"/>
<path d="M135.10,160.55 L137.55,164.40 L135.10,168.25 L132.65,164.40 Z" class="dia"/>
<path d="M142.10,164.30 L147.10,164.30 L144.60,170.50 Z" class="tri"/>
<path d="M149.00,166.45 L151.45,170.30 L149.00,174.15 L146.55,170.30 Z" class="dia"/>
<path d="M156.40,164.30 L161.40,164.30 L158.90,170.50 Z" class="tri"/>
<path d="M164.10,168.95 L166.55,172.80 L164.10,176.65 L161.65,172.80 Z" class="dia"/>
<path d="M173.10,168.95 L175.55,172.80 L173.10,176.65 L170.65,172.80 Z" class="dia"/>
<path d="M181.30,165.75 L183.75,169.60 L181.30,173.45 L178.85,169.60 Z" class="dia"/>
<path d="M202.50,170.20 L207.50,170.20 L205.00,176.40 Z" class="tri"/>
<path d="M216.30,169.95 L218.75,173.80 L216.30,177.65 L213.85,173.80 Z" class="dia"/>
<path d="M224.50,169.95 L226.95,173.80 L224.50,177.65 L222.05,173.80 Z" class="dia"/>
<path d="M247.90,167.55 L250.35,171.40 L247.90,175.25 L245.45,171.40 Z" class="dia"/>
<path d="M259.90,167.55 L262.35,171.40 L259.90,175.25 L257.45,171.40 Z" class="dia"/>
<path d="M267.60,167.55 L270.05,171.40 L267.60,175.25 L265.15,171.40 Z" class="dia"/>
<path d="M40.00,209.45 L42.45,213.30 L40.00,217.15 L37.55,213.30 Z" class="dia"/>
<path d="M80.10,233.75 L82.55,237.60 L80.10,241.45 L77.65,237.60 Z" class="dia"/>
<path d="M99.30,221.45 L101.75,225.30 L99.30,229.15 L96.85,225.30 Z" class="dia"/>
<path d="M127.70,230.35 L130.15,234.20 L127.70,238.05 L125.25,234.20 Z" class="dia"/>
<path d="M127.80,224.70 L132.80,224.70 L130.30,230.90 Z" class="tri"/>
<path d="M135.20,226.35 L137.65,230.20 L135.20,234.05 L132.75,230.20 Z" class="dia"/>
<path d="M142.00,202.90 L147.00,202.90 L144.50,209.10 Z" class="tri"/>
<path d="M148.90,226.15 L151.35,230.00 L148.90,233.85 L146.45,230.00 Z" class="dia"/>
<path d="M156.30,202.90 L161.30,202.90 L158.80,209.10 Z" class="tri"/>
<path d="M164.20,230.35 L166.65,234.20 L164.20,238.05 L161.75,234.20 Z" class="dia"/>
<path d="M173.20,230.35 L175.65,234.20 L173.20,238.05 L170.75,234.20 Z" class="dia"/>
<path d="M181.10,226.85 L183.55,230.70 L181.10,234.55 L178.65,230.70 Z" class="dia"/>
<path d="M190.80,232.50 L195.80,232.50 L193.30,238.70 Z" class="tri"/>
<path d="M202.40,224.40 L207.40,224.40 L204.90,230.60 Z" class="tri"/>
<path d="M216.30,231.55 L218.75,235.40 L216.30,239.25 L213.85,235.40 Z" class="dia"/>
<path d="M224.10,231.55 L226.55,235.40 L224.10,239.25 L221.65,235.40 Z" class="dia"/>
<path d="M224.00,224.60 L229.00,224.60 L226.50,230.80 Z" class="tri"/>
<path d="M245.30,221.10 L250.30,221.10 L247.80,227.30 Z" class="tri"/>
<path d="M247.80,230.55 L250.25,234.40 L247.80,238.25 L245.35,234.40 Z" class="dia"/>
<path d="M259.80,230.55 L262.25,234.40 L259.80,238.25 L257.35,234.40 Z" class="dia"/>
<path d="M261.20,224.10 L266.20,224.10 L263.70,230.30 Z" class="tri"/>
<path d="M267.30,230.55 L269.75,234.40 L267.30,238.25 L264.85,234.40 Z" class="dia"/>
<path d="M281.60,229.90 L286.60,229.90 L284.10,236.10 Z" class="tri"/>
<path d="M290.40,229.90 L295.40,229.90 L292.90,236.10 Z" class="tri"/>
<path d="M309.70,229.90 L314.70,229.90 L312.20,236.10 Z" class="tri"/>
<path d="M322.60,229.90 L327.60,229.90 L325.10,236.10 Z" class="tri"/>
<circle cx="556.60" cy="31.80" r="3.0" class="circ"/>
<circle cx="589.10" cy="88.90" r="3.0" class="circ"/>
<circle cx="697.40" cy="102.50" r="3.0" class="circ"/>
<circle cx="556.60" cy="140.80" r="3.0" class="circ"/>
<circle cx="589.10" cy="165.80" r="3.0" class="circ"/>
<circle cx="697.50" cy="171.40" r="3.0" class="circ"/>
<circle cx="556.60" cy="200.90" r="3.0" class="circ"/>
<circle cx="589.10" cy="230.30" r="3.0" class="circ"/>
<circle cx="697.50" cy="237.90" r="3.0" class="circ"/>
<rect x="522.00" y="171.10" width="6.4" height="6.4" fill="#000"/>
<circle cx="651.00" cy="51.40" r="3.0" class="circ"/>
<rect x="648.10" y="64.60" width="6.4" height="6.4" fill="#000"/>
<!-- legend A -->
<path d="M37.90,47.90 L42.30,47.90 L40.10,54.10 Z" class="tri"/>
<path d="M40.40,64.15 L42.85,68.00 L40.40,71.85 L37.95,68.00 Z" class="dia"/>
<text x="49.6" y="55.4" class="leg">CuO</text>
<text x="49.6" y="72.2" class="leg">Cu<tspan dy="3" font-size="9">2</tspan><tspan dy="-3">(NO</tspan><tspan dy="3" font-size="9">3</tspan><tspan dy="-3">)(OH)</tspan><tspan dy="3" font-size="9">3</tspan></text>
<text x="660.5" y="55.8" class="leg">Cu</text>
<text x="660.5" y="71.8" class="leg">Cu<tspan dy="3" font-size="9">2</tspan><tspan dy="-3">O</tspan></text>
<!-- sample labels -->
<text x="229.5" y="72.3" class="lab" fill="#2f7212">CuO reagent</text>
<text x="190.8" y="151.1" class="lab" fill="#2200c6">Cu–Ru precursor</text>
<text x="191.6" y="210.0" class="lab" fill="#d0101a">Cu–Pd precursor</text>
<text x="416" y="110.0" class="lab" fill="#2f7212">Cu</text>
<text x="416.3" y="169.6" class="lab" fill="#2200c6">Cu–Ru</text>
<text x="416.5" y="237.9" class="lab" fill="#d0101a">Cu–Pd</text>
<!-- axis labels -->
<text x="143" y="319.2" style="font-size:17.7px;fill:#111;">2<tspan font-style="italic">θ</tspan> / degree</text>
<text x="520" y="318.6" style="font-size:17.7px;fill:#111;">2<tspan font-style="italic">θ</tspan> / degree</text>
<text transform="translate(14.1,199.5) rotate(-90)" style="font-size:17.7px;fill:#111;">Intensity / a.u.</text>
<text transform="translate(391.2,199.5) rotate(-90)" style="font-size:17.7px;fill:#111;">Intensity / a.u.</text>
</svg>
</body></html>
